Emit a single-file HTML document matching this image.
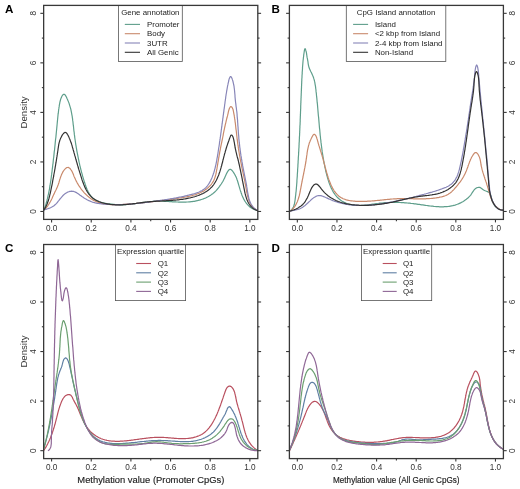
<!DOCTYPE html>
<html><head><meta charset="utf-8"><style>html,body{margin:0;padding:0;background:#fff;width:520px;height:489px;overflow:hidden;font-family:"Liberation Sans", sans-serif;}</style></head>
<body><svg width="520" height="489" viewBox="0 0 520 489" style="position:absolute;left:0;top:0;filter:blur(0.35px)"><rect x="0" y="0" width="520" height="489" fill="#fff"/><style>text{font-family:"Liberation Sans",sans-serif}</style><clipPath id="clA"><rect x="43.65" y="5.4" width="214.15" height="214.0"/></clipPath><g clip-path="url(#clA)" fill="none" stroke-linejoin="round"><path d="M44.0,210.2 L44.3,209.2 L44.7,208.2 L45.0,207.3 L45.3,206.3 L45.6,205.3 L45.9,204.3 L46.2,203.3 L46.4,202.3 L46.7,201.3 L47.0,200.4 L47.2,199.4 L47.5,198.4 L47.7,197.4 L47.9,196.4 L48.1,195.3 L48.4,194.3 L48.6,193.3 L48.8,192.3 L49.0,191.3 L49.2,190.3 L49.4,189.3 L49.6,188.3 L49.7,187.2 L49.9,186.2 L50.1,185.2 L50.2,184.2 L50.4,183.1 L50.6,182.1 L50.7,181.1 L50.9,180.1 L51.0,179.0 L51.2,178.0 L51.3,177.0 L51.4,176.0 L51.6,174.9 L51.7,173.9 L51.8,172.9 L52.0,171.8 L52.1,170.8 L52.2,169.8 L52.3,168.8 L52.5,167.7 L52.6,166.7 L52.7,165.7 L52.8,164.6 L53.0,163.6 L53.1,162.6 L53.2,161.6 L53.3,160.5 L53.4,159.5 L53.5,158.5 L53.7,157.5 L53.8,156.5 L53.9,155.4 L54.0,154.4 L54.1,153.4 L54.2,152.4 L54.3,151.3 L54.5,150.3 L54.6,149.3 L54.7,148.3 L54.8,147.2 L54.9,146.2 L55.0,145.2 L55.1,144.2 L55.2,143.1 L55.3,142.1 L55.4,141.1 L55.5,140.1 L55.6,139.0 L55.8,138.0 L55.9,137.0 L56.0,135.9 L56.1,134.9 L56.2,133.9 L56.3,132.8 L56.4,131.8 L56.5,130.8 L56.6,129.7 L56.7,128.7 L56.8,127.6 L56.9,126.6 L57.0,125.6 L57.1,124.5 L57.2,123.5 L57.3,122.4 L57.4,121.4 L57.5,120.4 L57.6,119.3 L57.7,118.3 L57.8,117.3 L57.9,116.2 L58.0,115.2 L58.1,114.2 L58.3,113.2 L58.4,112.2 L58.5,111.3 L58.6,110.3 L58.7,109.3 L58.9,108.4 L59.0,107.4 L59.2,106.4 L59.3,105.4 L59.5,104.4 L59.7,103.3 L59.9,102.2 L60.2,101.0 L60.5,99.8 L60.9,98.6 L61.4,97.4 L61.9,96.3 L62.5,95.3 L63.1,94.6 L63.7,94.3 L64.3,94.3 L64.9,94.7 L65.4,95.4 L66.0,96.3 L66.5,97.2 L66.9,98.2 L67.4,99.2 L67.8,100.2 L68.2,101.1 L68.6,102.1 L69.0,103.1 L69.3,104.1 L69.6,105.1 L69.9,106.1 L70.2,107.1 L70.5,108.1 L70.8,109.2 L71.0,110.2 L71.2,111.2 L71.4,112.2 L71.6,113.2 L71.8,114.3 L72.0,115.3 L72.2,116.3 L72.3,117.3 L72.5,118.4 L72.6,119.4 L72.7,120.4 L72.9,121.5 L73.0,122.5 L73.1,123.5 L73.2,124.6 L73.4,125.6 L73.5,126.6 L73.6,127.7 L73.7,128.7 L73.8,129.7 L73.9,130.8 L74.1,131.8 L74.2,132.8 L74.3,133.9 L74.4,134.9 L74.6,135.9 L74.7,136.9 L74.8,138.0 L75.0,139.0 L75.1,140.0 L75.3,141.0 L75.4,142.0 L75.6,143.0 L75.7,144.1 L75.9,145.1 L76.1,146.1 L76.2,147.1 L76.4,148.1 L76.6,149.1 L76.7,150.1 L76.9,151.2 L77.1,152.2 L77.3,153.2 L77.5,154.2 L77.7,155.2 L77.9,156.2 L78.1,157.2 L78.3,158.2 L78.5,159.2 L78.7,160.2 L78.9,161.2 L79.1,162.2 L79.4,163.2 L79.6,164.3 L79.8,165.3 L80.1,166.3 L80.3,167.3 L80.6,168.3 L80.8,169.3 L81.1,170.3 L81.3,171.3 L81.6,172.3 L81.9,173.3 L82.2,174.3 L82.4,175.3 L82.7,176.3 L83.0,177.3 L83.3,178.3 L83.6,179.3 L83.9,180.3 L84.2,181.3 L84.5,182.3 L84.9,183.3 L85.2,184.3 L85.5,185.3 L85.9,186.3 L86.2,187.3 L86.6,188.3 L87.0,189.3 L87.4,190.2 L87.9,191.1 L88.3,192.0 L88.8,192.9 L89.3,193.8 L89.8,194.6 L90.4,195.4 L91.0,196.2 L91.6,196.9 L92.3,197.6 L93.0,198.3 L93.8,198.9 L94.6,199.5 L95.4,200.1 L96.3,200.5 L97.2,201.0 L98.2,201.4 L99.2,201.7 L100.2,202.1 L101.3,202.4 L102.4,202.6 L103.5,202.9 L104.5,203.1 L105.6,203.3 L106.7,203.5 L107.8,203.6 L108.9,203.8 L109.9,203.9 L111.0,204.1 L112.0,204.2 L113.0,204.3 L114.1,204.4 L115.1,204.5 L116.1,204.6 L117.1,204.7 L118.1,204.7 L119.1,204.8 L120.1,204.8 L121.1,204.8 L122.1,204.8 L123.1,204.8 L124.1,204.7 L125.2,204.7 L126.2,204.6 L127.2,204.5 L128.2,204.5 L129.2,204.4 L130.2,204.3 L131.2,204.1 L132.3,204.0 L133.3,203.9 L134.3,203.8 L135.3,203.6 L136.4,203.5 L137.4,203.3 L138.4,203.2 L139.4,203.0 L140.5,202.9 L141.5,202.7 L142.5,202.6 L143.6,202.4 L144.6,202.3 L145.6,202.1 L146.7,202.0 L147.7,201.9 L148.7,201.8 L149.8,201.6 L150.8,201.5 L151.8,201.5 L152.9,201.4 L153.9,201.3 L154.9,201.2 L156.0,201.2 L157.0,201.2 L158.0,201.2 L159.1,201.2 L160.1,201.2 L161.1,201.2 L162.2,201.2 L163.2,201.2 L164.2,201.3 L165.3,201.3 L166.3,201.4 L167.3,201.4 L168.3,201.5 L169.4,201.6 L170.4,201.6 L171.4,201.7 L172.5,201.8 L173.5,201.8 L174.5,201.9 L175.6,201.9 L176.6,202.0 L177.6,202.0 L178.7,202.1 L179.7,202.1 L180.7,202.1 L181.8,202.1 L182.8,202.1 L183.8,202.1 L184.9,202.1 L185.9,202.1 L186.9,202.0 L188.0,202.0 L189.0,201.9 L190.0,201.8 L191.1,201.7 L192.1,201.6 L193.1,201.4 L194.2,201.3 L195.2,201.1 L196.2,200.9 L197.3,200.7 L198.3,200.4 L199.3,200.1 L200.3,199.9 L201.3,199.5 L202.3,199.2 L203.3,198.9 L204.2,198.5 L205.2,198.1 L206.1,197.7 L207.0,197.2 L208.0,196.7 L208.9,196.2 L209.7,195.7 L210.6,195.2 L211.5,194.6 L212.3,194.0 L213.1,193.4 L213.9,192.7 L214.7,192.0 L215.4,191.3 L216.1,190.6 L216.8,189.8 L217.5,189.0 L218.2,188.2 L218.8,187.4 L219.4,186.6 L220.0,185.7 L220.6,184.9 L221.2,184.0 L221.7,183.2 L222.3,182.3 L222.8,181.5 L223.3,180.6 L223.7,179.7 L224.2,178.8 L224.7,177.9 L225.1,176.8 L225.6,175.7 L226.1,174.6 L226.6,173.5 L227.2,172.4 L227.8,171.4 L228.4,170.5 L229.0,169.8 L229.7,169.4 L230.4,169.3 L231.2,169.7 L231.9,170.3 L232.6,171.1 L233.2,172.0 L233.8,172.9 L234.4,173.8 L234.9,174.7 L235.4,175.6 L235.8,176.6 L236.3,177.6 L236.7,178.5 L237.0,179.5 L237.4,180.5 L237.7,181.5 L238.0,182.5 L238.3,183.5 L238.6,184.6 L238.9,185.6 L239.2,186.6 L239.5,187.6 L239.8,188.6 L240.1,189.7 L240.4,190.7 L240.8,191.7 L241.1,192.7 L241.5,193.7 L241.8,194.7 L242.2,195.7 L242.6,196.6 L243.0,197.6 L243.5,198.5 L243.9,199.4 L244.4,200.3 L244.9,201.2 L245.5,202.0 L246.1,202.9 L246.7,203.7 L247.3,204.4 L248.0,205.2 L248.7,205.9 L249.4,206.5 L250.2,207.2 L251.0,207.7 L251.8,208.3 L252.7,208.8 L253.7,209.3 L254.7,209.7 L255.7,210.0 L256.8,210.4 L257.9,210.6" stroke="#5e9e8b" stroke-width="1.2" stroke-opacity="1.0"/><path d="M43.6,210.0 L44.4,209.3 L45.2,208.7 L45.9,208.0 L46.5,207.3 L47.2,206.5 L47.8,205.8 L48.3,205.0 L48.8,204.2 L49.3,203.4 L49.8,202.6 L50.3,201.8 L50.7,201.0 L51.2,200.1 L51.6,199.2 L52.0,198.4 L52.4,197.5 L52.8,196.6 L53.2,195.7 L53.6,194.8 L54.1,193.9 L54.5,193.0 L54.9,192.1 L55.3,191.2 L55.8,190.3 L56.2,189.5 L56.6,188.6 L57.0,187.7 L57.4,186.8 L57.7,185.9 L58.1,185.0 L58.4,184.1 L58.7,183.2 L59.0,182.4 L59.2,181.5 L59.5,180.6 L59.7,179.7 L60.0,178.9 L60.3,178.0 L60.6,177.1 L60.9,176.2 L61.3,175.3 L61.7,174.3 L62.1,173.4 L62.6,172.4 L63.2,171.4 L63.8,170.5 L64.5,169.6 L65.2,168.9 L65.9,168.2 L66.6,167.7 L67.4,167.5 L68.2,167.4 L68.9,167.7 L69.7,168.2 L70.4,169.0 L71.1,170.0 L71.7,170.9 L72.2,171.8 L72.6,172.7 L73.0,173.6 L73.4,174.5 L73.7,175.4 L74.0,176.2 L74.4,177.1 L74.8,177.9 L75.2,178.8 L75.6,179.7 L76.0,180.5 L76.4,181.4 L76.9,182.2 L77.3,183.1 L77.8,183.9 L78.3,184.7 L78.8,185.6 L79.4,186.4 L79.9,187.2 L80.5,188.0 L81.0,188.8 L81.6,189.6 L82.2,190.3 L82.9,191.1 L83.5,191.8 L84.1,192.6 L84.8,193.3 L85.5,194.0 L86.2,194.7 L86.9,195.3 L87.6,196.0 L88.3,196.6 L89.1,197.2 L89.8,197.8 L90.6,198.4 L91.4,198.9 L92.2,199.4 L93.0,199.9 L93.8,200.4 L94.6,200.8 L95.5,201.3 L96.3,201.6 L97.2,202.0 L98.1,202.3 L99.0,202.6 L99.9,202.9 L100.8,203.2 L101.7,203.4 L102.6,203.6 L103.5,203.8 L104.5,204.0 L105.4,204.1 L106.4,204.3 L107.3,204.4 L108.3,204.5 L109.3,204.5 L110.2,204.6 L111.2,204.6 L112.2,204.7 L113.2,204.7 L114.2,204.7 L115.1,204.7 L116.1,204.7 L117.1,204.7 L118.1,204.6 L119.1,204.6 L120.1,204.6 L121.1,204.5 L122.1,204.5 L123.1,204.4 L124.1,204.3 L125.0,204.3 L126.0,204.2 L127.0,204.2 L128.0,204.1 L129.0,204.0 L129.9,203.9 L130.9,203.9 L131.9,203.8 L132.8,203.7 L133.8,203.6 L134.8,203.6 L135.8,203.5 L136.7,203.4 L137.7,203.3 L138.6,203.2 L139.6,203.1 L140.6,203.0 L141.5,202.9 L142.5,202.8 L143.4,202.7 L144.4,202.6 L145.3,202.5 L146.3,202.4 L147.2,202.3 L148.2,202.2 L149.2,202.1 L150.1,202.0 L151.1,201.9 L152.0,201.8 L153.0,201.6 L153.9,201.5 L154.9,201.4 L155.8,201.3 L156.8,201.2 L157.7,201.1 L158.7,200.9 L159.6,200.8 L160.6,200.7 L161.5,200.6 L162.5,200.4 L163.4,200.3 L164.4,200.2 L165.3,200.0 L166.3,199.9 L167.2,199.8 L168.2,199.6 L169.1,199.5 L170.1,199.4 L171.0,199.2 L172.0,199.1 L173.0,199.0 L173.9,198.8 L174.9,198.7 L175.8,198.5 L176.8,198.4 L177.8,198.3 L178.7,198.1 L179.7,198.0 L180.7,197.8 L181.6,197.7 L182.6,197.5 L183.6,197.4 L184.5,197.2 L185.5,197.0 L186.5,196.9 L187.4,196.7 L188.4,196.5 L189.3,196.3 L190.3,196.0 L191.2,195.8 L192.1,195.6 L193.1,195.3 L194.0,195.0 L194.9,194.8 L195.8,194.5 L196.7,194.1 L197.6,193.8 L198.5,193.4 L199.4,193.1 L200.3,192.7 L201.1,192.3 L202.0,191.8 L202.8,191.4 L203.7,190.9 L204.5,190.3 L205.3,189.8 L206.1,189.2 L206.9,188.7 L207.6,188.0 L208.4,187.4 L209.1,186.7 L209.8,186.0 L210.4,185.3 L211.1,184.6 L211.7,183.8 L212.2,183.0 L212.8,182.2 L213.3,181.4 L213.7,180.6 L214.1,179.7 L214.5,178.8 L214.8,177.9 L215.1,177.0 L215.4,176.1 L215.6,175.1 L215.9,174.2 L216.1,173.2 L216.3,172.3 L216.4,171.3 L216.6,170.3 L216.8,169.4 L217.0,168.4 L217.1,167.5 L217.3,166.5 L217.5,165.5 L217.6,164.6 L217.8,163.6 L217.9,162.7 L218.1,161.7 L218.3,160.8 L218.4,159.8 L218.6,158.9 L218.7,157.9 L218.9,157.0 L219.1,156.0 L219.2,155.1 L219.4,154.1 L219.6,153.2 L219.7,152.2 L219.9,151.3 L220.1,150.3 L220.3,149.4 L220.5,148.4 L220.6,147.5 L220.8,146.6 L221.0,145.6 L221.2,144.7 L221.4,143.7 L221.6,142.8 L221.8,141.8 L222.0,140.9 L222.2,139.9 L222.4,139.0 L222.6,138.0 L222.8,137.0 L223.0,136.0 L223.2,135.1 L223.3,134.1 L223.5,133.1 L223.7,132.1 L223.9,131.2 L224.1,130.2 L224.3,129.3 L224.5,128.3 L224.7,127.4 L224.9,126.5 L225.1,125.6 L225.3,124.7 L225.5,123.8 L225.7,123.0 L225.9,122.1 L226.1,121.3 L226.3,120.4 L226.5,119.6 L226.7,118.7 L227.0,117.8 L227.2,116.9 L227.5,115.9 L227.7,114.8 L228.0,113.8 L228.2,112.6 L228.5,111.4 L228.8,110.2 L229.2,109.0 L229.6,108.0 L230.1,107.2 L230.6,106.7 L231.2,106.7 L231.8,107.1 L232.3,107.8 L232.7,108.7 L233.1,109.6 L233.3,110.7 L233.5,111.7 L233.7,112.8 L233.9,113.8 L234.1,114.9 L234.3,115.9 L234.4,116.9 L234.6,117.9 L234.7,118.9 L234.9,119.9 L235.0,120.8 L235.1,121.8 L235.3,122.8 L235.4,123.7 L235.5,124.7 L235.6,125.6 L235.7,126.5 L235.8,127.5 L235.9,128.4 L236.0,129.3 L236.2,130.3 L236.3,131.2 L236.4,132.1 L236.5,133.1 L236.6,134.0 L236.7,134.9 L236.8,135.9 L236.9,136.8 L237.0,137.8 L237.1,138.7 L237.2,139.7 L237.4,140.6 L237.5,141.6 L237.6,142.6 L237.7,143.5 L237.9,144.5 L238.0,145.5 L238.2,146.4 L238.3,147.4 L238.4,148.4 L238.6,149.4 L238.7,150.3 L238.9,151.3 L239.1,152.3 L239.2,153.3 L239.4,154.2 L239.5,155.2 L239.7,156.2 L239.9,157.1 L240.1,158.1 L240.2,159.0 L240.4,160.0 L240.6,160.9 L240.8,161.9 L241.0,162.8 L241.2,163.8 L241.3,164.7 L241.5,165.7 L241.7,166.6 L241.9,167.5 L242.1,168.5 L242.3,169.4 L242.5,170.4 L242.7,171.3 L242.9,172.2 L243.1,173.2 L243.3,174.1 L243.5,175.0 L243.7,176.0 L243.9,176.9 L244.1,177.9 L244.3,178.8 L244.5,179.7 L244.7,180.7 L244.9,181.6 L245.0,182.6 L245.2,183.5 L245.4,184.5 L245.6,185.5 L245.8,186.4 L245.9,187.4 L246.1,188.4 L246.3,189.3 L246.5,190.3 L246.6,191.3 L246.8,192.3 L247.0,193.2 L247.2,194.2 L247.4,195.2 L247.6,196.1 L247.9,197.0 L248.1,198.0 L248.4,198.9 L248.7,199.8 L249.0,200.7 L249.4,201.6 L249.8,202.4 L250.2,203.3 L250.6,204.1 L251.1,204.9 L251.7,205.6 L252.3,206.4 L252.9,207.1 L253.6,207.8 L254.3,208.4 L255.1,209.0 L255.9,209.6 L256.8,210.1 L257.8,210.6" stroke="#c98a6c" stroke-width="1.2" stroke-opacity="1.0"/><path d="M43.7,210.0 L44.7,209.7 L45.6,209.4 L46.6,209.1 L47.6,208.8 L48.6,208.4 L49.5,208.1 L50.5,207.7 L51.4,207.2 L52.3,206.8 L53.2,206.2 L54.0,205.7 L54.8,205.0 L55.6,204.3 L56.3,203.6 L57.0,202.8 L57.7,202.0 L58.3,201.2 L59.0,200.4 L59.6,199.5 L60.3,198.7 L61.0,197.9 L61.6,197.1 L62.3,196.3 L63.0,195.5 L63.8,194.8 L64.6,194.1 L65.4,193.5 L66.2,192.9 L67.1,192.4 L68.0,192.0 L68.9,191.7 L69.8,191.4 L70.7,191.3 L71.6,191.2 L72.6,191.3 L73.5,191.4 L74.5,191.7 L75.4,192.1 L76.4,192.6 L77.3,193.2 L78.2,193.8 L79.2,194.5 L80.1,195.2 L81.0,195.8 L81.9,196.5 L82.8,197.1 L83.7,197.7 L84.5,198.2 L85.4,198.8 L86.3,199.3 L87.1,199.8 L88.0,200.2 L88.9,200.6 L89.8,201.0 L90.7,201.4 L91.6,201.8 L92.5,202.1 L93.5,202.4 L94.5,202.6 L95.4,202.9 L96.4,203.1 L97.4,203.3 L98.4,203.5 L99.4,203.6 L100.4,203.7 L101.4,203.9 L102.5,204.0 L103.5,204.1 L104.5,204.2 L105.6,204.2 L106.6,204.3 L107.6,204.4 L108.6,204.4 L109.7,204.5 L110.7,204.5 L111.7,204.5 L112.8,204.6 L113.8,204.6 L114.8,204.6 L115.8,204.6 L116.9,204.6 L117.9,204.6 L118.9,204.6 L120.0,204.6 L121.0,204.5 L122.0,204.5 L123.0,204.5 L124.1,204.4 L125.1,204.4 L126.1,204.3 L127.1,204.3 L128.1,204.2 L129.2,204.1 L130.2,204.1 L131.2,204.0 L132.2,203.9 L133.2,203.8 L134.3,203.7 L135.3,203.6 L136.3,203.5 L137.3,203.4 L138.3,203.3 L139.4,203.2 L140.4,203.1 L141.4,203.0 L142.4,202.9 L143.4,202.8 L144.4,202.6 L145.4,202.5 L146.4,202.4 L147.5,202.3 L148.5,202.1 L149.5,202.0 L150.5,201.9 L151.5,201.7 L152.5,201.6 L153.5,201.4 L154.5,201.3 L155.5,201.1 L156.5,201.0 L157.5,200.9 L158.5,200.7 L159.5,200.6 L160.5,200.4 L161.5,200.3 L162.5,200.1 L163.5,200.0 L164.5,199.8 L165.5,199.6 L166.5,199.5 L167.5,199.3 L168.5,199.2 L169.5,199.0 L170.5,198.8 L171.5,198.7 L172.5,198.5 L173.5,198.3 L174.5,198.1 L175.5,198.0 L176.5,197.8 L177.5,197.6 L178.5,197.4 L179.5,197.2 L180.5,197.0 L181.5,196.8 L182.6,196.6 L183.6,196.4 L184.6,196.1 L185.6,195.9 L186.6,195.7 L187.6,195.4 L188.6,195.2 L189.6,194.9 L190.7,194.7 L191.7,194.4 L192.7,194.1 L193.7,193.9 L194.7,193.6 L195.7,193.2 L196.7,192.9 L197.6,192.5 L198.6,192.2 L199.5,191.8 L200.4,191.3 L201.3,190.9 L202.2,190.4 L203.0,189.8 L203.8,189.3 L204.6,188.7 L205.4,188.0 L206.1,187.3 L206.7,186.6 L207.4,185.8 L208.0,185.0 L208.6,184.2 L209.1,183.4 L209.6,182.5 L210.1,181.6 L210.6,180.7 L211.0,179.8 L211.5,178.8 L211.9,177.9 L212.3,176.9 L212.6,175.9 L213.0,175.0 L213.3,174.0 L213.7,173.0 L214.0,172.0 L214.3,171.1 L214.5,170.1 L214.8,169.1 L215.1,168.1 L215.3,167.1 L215.5,166.1 L215.8,165.1 L216.0,164.1 L216.2,163.1 L216.4,162.1 L216.6,161.1 L216.8,160.1 L216.9,159.1 L217.1,158.1 L217.3,157.1 L217.5,156.1 L217.6,155.1 L217.8,154.1 L218.0,153.1 L218.1,152.0 L218.3,151.0 L218.4,150.0 L218.6,149.0 L218.7,148.0 L218.9,147.0 L219.1,146.0 L219.2,145.0 L219.4,144.0 L219.5,142.9 L219.6,141.9 L219.8,140.9 L219.9,139.9 L220.1,138.9 L220.2,137.9 L220.4,136.9 L220.5,135.9 L220.7,134.8 L220.8,133.8 L220.9,132.8 L221.1,131.8 L221.2,130.8 L221.3,129.8 L221.5,128.8 L221.6,127.7 L221.8,126.7 L221.9,125.7 L222.0,124.7 L222.2,123.7 L222.3,122.7 L222.4,121.7 L222.6,120.7 L222.7,119.7 L222.8,118.6 L223.0,117.6 L223.1,116.6 L223.2,115.6 L223.4,114.6 L223.5,113.6 L223.6,112.6 L223.8,111.6 L223.9,110.6 L224.0,109.6 L224.2,108.6 L224.3,107.6 L224.5,106.5 L224.6,105.5 L224.7,104.5 L224.9,103.5 L225.0,102.5 L225.1,101.5 L225.3,100.5 L225.4,99.5 L225.6,98.5 L225.7,97.5 L225.8,96.5 L226.0,95.5 L226.1,94.5 L226.3,93.5 L226.5,92.5 L226.6,91.4 L226.8,90.3 L227.0,89.3 L227.2,88.2 L227.4,87.0 L227.6,85.9 L227.9,84.7 L228.1,83.5 L228.4,82.3 L228.7,81.0 L228.9,79.9 L229.2,78.8 L229.6,77.9 L229.9,77.2 L230.2,76.7 L230.6,76.5 L231.0,76.7 L231.3,77.1 L231.7,77.8 L232.1,78.7 L232.4,79.7 L232.8,80.8 L233.1,82.0 L233.4,83.3 L233.6,84.5 L233.9,85.7 L234.1,86.9 L234.2,88.0 L234.4,89.1 L234.5,90.2 L234.6,91.3 L234.7,92.4 L234.8,93.5 L234.9,94.5 L235.0,95.5 L235.0,96.6 L235.1,97.6 L235.2,98.6 L235.3,99.6 L235.4,100.6 L235.5,101.6 L235.6,102.6 L235.8,103.6 L235.9,104.6 L236.0,105.6 L236.1,106.6 L236.3,107.6 L236.4,108.5 L236.5,109.5 L236.6,110.5 L236.8,111.5 L236.9,112.5 L237.0,113.5 L237.1,114.6 L237.1,115.6 L237.2,116.6 L237.3,117.6 L237.4,118.6 L237.5,119.6 L237.6,120.6 L237.6,121.7 L237.7,122.7 L237.8,123.7 L237.8,124.7 L237.9,125.8 L238.0,126.8 L238.1,127.8 L238.1,128.8 L238.2,129.9 L238.3,130.9 L238.3,131.9 L238.4,132.9 L238.5,134.0 L238.6,135.0 L238.7,136.0 L238.8,137.0 L238.8,138.1 L238.9,139.1 L239.0,140.1 L239.1,141.1 L239.2,142.2 L239.4,143.2 L239.5,144.2 L239.6,145.2 L239.7,146.2 L239.8,147.3 L240.0,148.3 L240.1,149.3 L240.2,150.3 L240.4,151.3 L240.5,152.3 L240.6,153.3 L240.8,154.3 L240.9,155.4 L241.1,156.4 L241.3,157.4 L241.4,158.4 L241.6,159.4 L241.8,160.4 L241.9,161.4 L242.1,162.4 L242.3,163.4 L242.5,164.4 L242.6,165.4 L242.8,166.4 L243.0,167.4 L243.2,168.4 L243.4,169.4 L243.6,170.4 L243.8,171.4 L244.0,172.4 L244.2,173.4 L244.4,174.4 L244.6,175.4 L244.8,176.4 L245.0,177.4 L245.2,178.4 L245.4,179.4 L245.6,180.4 L245.8,181.4 L246.0,182.4 L246.2,183.4 L246.4,184.4 L246.6,185.4 L246.7,186.4 L246.9,187.5 L247.1,188.5 L247.2,189.5 L247.4,190.5 L247.5,191.6 L247.7,192.6 L247.9,193.6 L248.1,194.7 L248.3,195.7 L248.5,196.7 L248.7,197.7 L248.9,198.6 L249.2,199.6 L249.5,200.6 L249.9,201.5 L250.3,202.4 L250.7,203.3 L251.2,204.2 L251.7,205.0 L252.2,205.8 L252.8,206.6 L253.5,207.4 L254.2,208.1 L255.0,208.8 L255.9,209.4 L256.8,210.1 L257.8,210.6" stroke="#8886b8" stroke-width="1.2" stroke-opacity="1.0"/><path d="M43.8,210.1 L44.4,209.3 L44.9,208.4 L45.4,207.5 L45.8,206.7 L46.3,205.8 L46.7,204.9 L47.1,204.0 L47.4,203.0 L47.8,202.1 L48.1,201.2 L48.4,200.3 L48.7,199.3 L49.0,198.4 L49.2,197.4 L49.5,196.5 L49.7,195.5 L49.9,194.5 L50.2,193.6 L50.4,192.6 L50.6,191.6 L50.8,190.6 L51.0,189.7 L51.2,188.7 L51.4,187.7 L51.6,186.7 L51.8,185.8 L52.0,184.8 L52.2,183.8 L52.4,182.8 L52.6,181.8 L52.7,180.9 L52.9,179.9 L53.1,178.9 L53.3,177.9 L53.5,176.9 L53.7,176.0 L53.8,175.0 L54.0,174.0 L54.2,173.0 L54.4,172.0 L54.6,171.0 L54.7,170.1 L54.9,169.1 L55.1,168.1 L55.2,167.1 L55.4,166.1 L55.6,165.2 L55.7,164.2 L55.9,163.2 L56.1,162.2 L56.2,161.2 L56.4,160.3 L56.5,159.3 L56.7,158.3 L56.8,157.3 L57.0,156.4 L57.1,155.4 L57.3,154.4 L57.4,153.4 L57.6,152.5 L57.7,151.5 L57.9,150.5 L58.0,149.6 L58.1,148.6 L58.3,147.6 L58.4,146.7 L58.6,145.7 L58.7,144.7 L58.9,143.8 L59.1,142.8 L59.4,141.8 L59.7,140.8 L60.0,139.9 L60.4,138.9 L60.8,137.9 L61.3,136.9 L61.8,135.9 L62.4,134.9 L63.1,134.0 L63.7,133.2 L64.4,132.7 L65.1,132.4 L65.8,132.5 L66.4,132.9 L67.0,133.6 L67.5,134.5 L68.1,135.4 L68.6,136.4 L69.0,137.4 L69.4,138.4 L69.9,139.4 L70.2,140.3 L70.6,141.3 L70.9,142.3 L71.3,143.2 L71.6,144.2 L71.9,145.1 L72.2,146.1 L72.4,147.0 L72.7,148.0 L73.0,148.9 L73.2,149.9 L73.5,150.8 L73.8,151.7 L74.0,152.7 L74.3,153.6 L74.6,154.6 L74.8,155.5 L75.1,156.4 L75.4,157.4 L75.6,158.3 L75.9,159.3 L76.2,160.2 L76.4,161.1 L76.7,162.1 L77.0,163.0 L77.2,164.0 L77.5,164.9 L77.8,165.9 L78.1,166.8 L78.3,167.8 L78.6,168.7 L78.9,169.7 L79.2,170.6 L79.5,171.6 L79.8,172.6 L80.1,173.5 L80.4,174.5 L80.7,175.5 L81.0,176.4 L81.3,177.4 L81.6,178.4 L81.9,179.4 L82.2,180.3 L82.6,181.3 L82.9,182.3 L83.3,183.2 L83.6,184.2 L84.0,185.1 L84.4,186.1 L84.8,187.0 L85.2,187.9 L85.7,188.8 L86.1,189.7 L86.6,190.5 L87.1,191.4 L87.6,192.2 L88.1,193.0 L88.7,193.8 L89.3,194.5 L89.9,195.2 L90.5,195.9 L91.2,196.6 L91.9,197.3 L92.6,197.9 L93.4,198.4 L94.1,199.0 L94.9,199.5 L95.8,200.0 L96.6,200.5 L97.5,200.9 L98.4,201.3 L99.3,201.7 L100.2,202.0 L101.1,202.4 L102.1,202.7 L103.0,203.0 L104.0,203.2 L105.0,203.5 L106.0,203.7 L107.0,203.9 L108.0,204.1 L109.1,204.2 L110.1,204.4 L111.1,204.5 L112.1,204.6 L113.2,204.7 L114.2,204.7 L115.2,204.8 L116.2,204.8 L117.3,204.8 L118.3,204.8 L119.3,204.8 L120.3,204.8 L121.3,204.8 L122.3,204.8 L123.3,204.7 L124.3,204.6 L125.3,204.6 L126.3,204.5 L127.3,204.4 L128.3,204.3 L129.3,204.2 L130.3,204.1 L131.3,204.0 L132.3,203.9 L133.2,203.7 L134.2,203.6 L135.2,203.5 L136.2,203.4 L137.2,203.2 L138.1,203.1 L139.1,203.0 L140.1,202.8 L141.1,202.7 L142.0,202.6 L143.0,202.4 L144.0,202.3 L145.0,202.2 L146.0,202.1 L146.9,202.0 L147.9,201.9 L148.9,201.8 L149.9,201.7 L150.8,201.6 L151.8,201.5 L152.8,201.5 L153.8,201.4 L154.8,201.3 L155.7,201.3 L156.7,201.2 L157.7,201.2 L158.7,201.1 L159.7,201.1 L160.7,201.0 L161.6,201.0 L162.6,200.9 L163.6,200.9 L164.6,200.8 L165.6,200.8 L166.6,200.7 L167.6,200.6 L168.5,200.6 L169.5,200.5 L170.5,200.5 L171.5,200.4 L172.5,200.3 L173.5,200.2 L174.5,200.2 L175.5,200.1 L176.5,200.0 L177.4,199.9 L178.4,199.8 L179.4,199.7 L180.4,199.5 L181.4,199.4 L182.4,199.3 L183.4,199.1 L184.4,199.0 L185.4,198.8 L186.4,198.6 L187.4,198.4 L188.4,198.2 L189.4,198.0 L190.4,197.8 L191.4,197.5 L192.4,197.3 L193.4,197.0 L194.3,196.8 L195.3,196.5 L196.3,196.1 L197.3,195.8 L198.2,195.5 L199.2,195.1 L200.1,194.7 L201.1,194.3 L202.0,193.9 L202.9,193.5 L203.8,193.0 L204.6,192.6 L205.5,192.1 L206.3,191.5 L207.1,191.0 L207.9,190.4 L208.7,189.8 L209.4,189.2 L210.1,188.6 L210.8,187.9 L211.5,187.3 L212.1,186.6 L212.7,185.8 L213.3,185.1 L213.9,184.3 L214.4,183.5 L214.9,182.7 L215.4,181.9 L215.9,181.0 L216.4,180.2 L216.8,179.3 L217.2,178.4 L217.6,177.5 L218.0,176.6 L218.4,175.7 L218.8,174.7 L219.1,173.8 L219.4,172.8 L219.8,171.9 L220.1,170.9 L220.4,169.9 L220.7,168.9 L221.0,167.9 L221.2,166.9 L221.5,166.0 L221.8,165.0 L222.0,164.0 L222.3,163.0 L222.6,162.0 L222.8,161.0 L223.0,160.0 L223.3,159.0 L223.5,158.1 L223.8,157.1 L224.0,156.1 L224.3,155.2 L224.5,154.2 L224.8,153.3 L225.1,152.4 L225.3,151.4 L225.6,150.5 L225.9,149.6 L226.1,148.7 L226.4,147.8 L226.7,146.8 L227.0,145.9 L227.3,145.0 L227.6,144.0 L228.0,143.1 L228.3,142.1 L228.6,141.2 L229.0,140.2 L229.3,139.2 L229.7,138.1 L230.1,137.1 L230.5,136.1 L230.9,135.3 L231.4,135.0 L231.9,135.2 L232.4,135.8 L232.9,136.8 L233.3,137.9 L233.6,139.1 L233.9,140.4 L234.1,141.6 L234.4,142.8 L234.5,143.8 L234.7,144.8 L234.8,145.7 L235.0,146.6 L235.1,147.5 L235.3,148.4 L235.5,149.3 L235.7,150.2 L235.9,151.2 L236.1,152.1 L236.4,153.1 L236.6,154.1 L236.8,155.1 L237.1,156.1 L237.3,157.0 L237.6,158.0 L237.9,159.0 L238.1,160.0 L238.4,161.0 L238.6,162.0 L238.8,163.0 L239.1,164.0 L239.3,164.9 L239.5,165.9 L239.7,166.9 L239.9,167.8 L240.1,168.8 L240.3,169.7 L240.5,170.7 L240.7,171.6 L240.9,172.6 L241.1,173.6 L241.3,174.5 L241.5,175.5 L241.7,176.4 L241.9,177.4 L242.1,178.3 L242.3,179.3 L242.4,180.3 L242.6,181.2 L242.8,182.2 L243.0,183.2 L243.2,184.2 L243.4,185.1 L243.6,186.1 L243.8,187.1 L244.0,188.1 L244.2,189.1 L244.4,190.1 L244.6,191.1 L244.8,192.1 L245.0,193.2 L245.3,194.2 L245.5,195.2 L245.8,196.1 L246.1,197.1 L246.4,198.1 L246.7,199.0 L247.1,200.0 L247.5,200.9 L247.9,201.8 L248.3,202.6 L248.8,203.5 L249.3,204.3 L249.9,205.1 L250.5,205.8 L251.1,206.5 L251.8,207.2 L252.5,207.9 L253.2,208.5 L254.0,209.0 L254.9,209.5 L255.8,210.0 L256.8,210.4 L257.8,210.8" stroke="#333333" stroke-width="1.2" stroke-opacity="1.0"/></g><rect x="118.4" y="5.4" width="63.900000000000006" height="56.1" fill="#fff" stroke="#555" stroke-width="0.8"/><text x="150.35" y="14.70" font-size="7.9" fill="#222" text-anchor="middle">Gene annotation</text><line x1="124.8" x2="140.0" y1="24.40" y2="24.40" stroke="#5e9e8b" stroke-width="1.1"/><text x="147.0" y="27.10" font-size="7.9" fill="#222">Promoter</text><line x1="124.8" x2="140.0" y1="33.70" y2="33.70" stroke="#c98a6c" stroke-width="1.1"/><text x="147.0" y="36.40" font-size="7.9" fill="#222">Body</text><line x1="124.8" x2="140.0" y1="43.00" y2="43.00" stroke="#8886b8" stroke-width="1.1"/><text x="147.0" y="45.70" font-size="7.9" fill="#222">3UTR</text><line x1="124.8" x2="140.0" y1="52.30" y2="52.30" stroke="#333333" stroke-width="1.1"/><text x="147.0" y="55.00" font-size="7.9" fill="#222">All Genic</text><rect x="43.65" y="5.4" width="214.15" height="214.00" fill="none" stroke="#383838" stroke-width="1.3"/><line x1="40.35" x2="43.65" y1="211.47" y2="211.47" stroke="#383838" stroke-width="1.1"/><line x1="257.8" x2="261.10" y1="211.47" y2="211.47" stroke="#383838" stroke-width="1.1"/><text transform="translate(35.75,211.47) rotate(-90)" x="0" y="0" font-size="8.2" fill="#333" text-anchor="middle">0</text><line x1="41.85" x2="43.65" y1="186.71" y2="186.71" stroke="#383838" stroke-width="1.1"/><line x1="257.8" x2="259.60" y1="186.71" y2="186.71" stroke="#383838" stroke-width="1.1"/><line x1="40.35" x2="43.65" y1="161.94" y2="161.94" stroke="#383838" stroke-width="1.1"/><line x1="257.8" x2="261.10" y1="161.94" y2="161.94" stroke="#383838" stroke-width="1.1"/><text transform="translate(35.75,161.94) rotate(-90)" x="0" y="0" font-size="8.2" fill="#333" text-anchor="middle">2</text><line x1="41.85" x2="43.65" y1="137.17" y2="137.17" stroke="#383838" stroke-width="1.1"/><line x1="257.8" x2="259.60" y1="137.17" y2="137.17" stroke="#383838" stroke-width="1.1"/><line x1="40.35" x2="43.65" y1="112.40" y2="112.40" stroke="#383838" stroke-width="1.1"/><line x1="257.8" x2="261.10" y1="112.40" y2="112.40" stroke="#383838" stroke-width="1.1"/><text transform="translate(35.75,112.40) rotate(-90)" x="0" y="0" font-size="8.2" fill="#333" text-anchor="middle">4</text><line x1="41.85" x2="43.65" y1="87.63" y2="87.63" stroke="#383838" stroke-width="1.1"/><line x1="257.8" x2="259.60" y1="87.63" y2="87.63" stroke="#383838" stroke-width="1.1"/><line x1="40.35" x2="43.65" y1="62.86" y2="62.86" stroke="#383838" stroke-width="1.1"/><line x1="257.8" x2="261.10" y1="62.86" y2="62.86" stroke="#383838" stroke-width="1.1"/><text transform="translate(35.75,62.86) rotate(-90)" x="0" y="0" font-size="8.2" fill="#333" text-anchor="middle">6</text><line x1="41.85" x2="43.65" y1="38.09" y2="38.09" stroke="#383838" stroke-width="1.1"/><line x1="257.8" x2="259.60" y1="38.09" y2="38.09" stroke="#383838" stroke-width="1.1"/><line x1="40.35" x2="43.65" y1="13.33" y2="13.33" stroke="#383838" stroke-width="1.1"/><line x1="257.8" x2="261.10" y1="13.33" y2="13.33" stroke="#383838" stroke-width="1.1"/><text transform="translate(35.75,13.33) rotate(-90)" x="0" y="0" font-size="8.2" fill="#333" text-anchor="middle">8</text><line x1="51.58" x2="51.58" y1="219.4" y2="222.40" stroke="#383838" stroke-width="1.1"/><text x="51.58" y="230.90" font-size="8.2" fill="#333" text-anchor="middle">0.0</text><line x1="91.24" x2="91.24" y1="219.4" y2="222.40" stroke="#383838" stroke-width="1.1"/><text x="91.24" y="230.90" font-size="8.2" fill="#333" text-anchor="middle">0.2</text><line x1="130.90" x2="130.90" y1="219.4" y2="222.40" stroke="#383838" stroke-width="1.1"/><text x="130.90" y="230.90" font-size="8.2" fill="#333" text-anchor="middle">0.4</text><line x1="170.55" x2="170.55" y1="219.4" y2="222.40" stroke="#383838" stroke-width="1.1"/><text x="170.55" y="230.90" font-size="8.2" fill="#333" text-anchor="middle">0.6</text><line x1="210.21" x2="210.21" y1="219.4" y2="222.40" stroke="#383838" stroke-width="1.1"/><text x="210.21" y="230.90" font-size="8.2" fill="#333" text-anchor="middle">0.8</text><line x1="249.87" x2="249.87" y1="219.4" y2="222.40" stroke="#383838" stroke-width="1.1"/><text x="249.87" y="230.90" font-size="8.2" fill="#333" text-anchor="middle">1.0</text><line x1="150.72" x2="150.72" y1="219.4" y2="221.20" stroke="#383838" stroke-width="1.1"/><text x="5.0" y="13.30" font-size="11.6" font-weight="bold" fill="#000">A</text><text transform="translate(27.3,112.40) rotate(-90) scale(1.035,0.95)" font-size="9.3" fill="#333" text-anchor="middle">Density</text><clipPath id="clB"><rect x="289.4" y="5.4" width="214.0" height="214.0"/></clipPath><g clip-path="url(#clB)" fill="none" stroke-linejoin="round"><path d="M289.5,211.3 L290.5,210.6 L291.4,209.9 L292.2,209.0 L292.8,208.0 L293.4,207.0 L293.8,205.9 L294.2,204.8 L294.5,203.6 L294.7,202.4 L294.9,201.2 L295.1,200.0 L295.2,198.8 L295.4,197.6 L295.5,196.3 L295.7,195.1 L295.8,193.9 L295.9,192.7 L296.1,191.5 L296.2,190.3 L296.3,189.1 L296.4,187.9 L296.5,186.7 L296.6,185.5 L296.7,184.3 L296.8,183.1 L296.9,181.9 L296.9,180.7 L297.0,179.5 L297.1,178.3 L297.2,177.1 L297.3,175.9 L297.3,174.7 L297.4,173.5 L297.5,172.3 L297.6,171.1 L297.6,169.9 L297.7,168.7 L297.8,167.5 L297.9,166.3 L297.9,165.1 L298.0,163.9 L298.1,162.7 L298.1,161.5 L298.2,160.3 L298.3,159.1 L298.3,157.9 L298.4,156.7 L298.5,155.5 L298.6,154.3 L298.6,153.1 L298.7,151.9 L298.8,150.7 L298.8,149.4 L298.9,148.2 L299.0,147.0 L299.0,145.8 L299.1,144.6 L299.1,143.4 L299.2,142.2 L299.3,141.0 L299.3,139.8 L299.4,138.6 L299.4,137.4 L299.5,136.2 L299.6,135.0 L299.6,133.8 L299.7,132.6 L299.7,131.4 L299.8,130.2 L299.8,128.9 L299.9,127.7 L299.9,126.5 L300.0,125.3 L300.1,124.1 L300.1,122.9 L300.2,121.7 L300.2,120.5 L300.2,119.3 L300.3,118.1 L300.3,116.9 L300.4,115.7 L300.4,114.5 L300.5,113.2 L300.5,112.0 L300.6,110.8 L300.6,109.6 L300.7,108.4 L300.7,107.2 L300.7,106.0 L300.8,104.8 L300.8,103.6 L300.9,102.4 L300.9,101.2 L301.0,100.0 L301.0,98.8 L301.1,97.6 L301.1,96.4 L301.2,95.2 L301.2,94.0 L301.3,92.7 L301.3,91.5 L301.4,90.3 L301.4,89.1 L301.5,87.9 L301.5,86.7 L301.6,85.5 L301.6,84.3 L301.7,83.1 L301.7,81.9 L301.8,80.7 L301.8,79.5 L301.9,78.3 L302.0,77.2 L302.0,76.0 L302.1,74.8 L302.2,73.6 L302.2,72.4 L302.3,71.2 L302.4,70.0 L302.5,68.8 L302.5,67.6 L302.6,66.4 L302.7,65.2 L302.8,64.0 L302.9,62.7 L303.0,61.5 L303.1,60.3 L303.3,59.0 L303.4,57.7 L303.6,56.5 L303.7,55.2 L303.9,53.8 L304.1,52.5 L304.3,51.2 L304.5,49.9 L304.8,49.0 L305.1,48.7 L305.5,49.3 L305.8,50.4 L306.2,51.7 L306.5,53.1 L306.7,54.6 L306.9,56.0 L307.1,57.4 L307.4,58.6 L307.6,59.8 L307.8,60.9 L308.0,62.0 L308.1,63.1 L308.3,64.3 L308.5,65.5 L308.8,66.6 L309.1,67.8 L309.6,68.9 L310.1,70.0 L310.6,71.2 L311.2,72.2 L311.7,73.3 L312.2,74.4 L312.7,75.6 L313.2,76.7 L313.6,77.8 L313.9,78.9 L314.3,80.1 L314.5,81.2 L314.8,82.4 L315.0,83.6 L315.2,84.8 L315.4,85.9 L315.6,87.1 L315.7,88.3 L315.9,89.5 L316.0,90.7 L316.1,91.9 L316.3,93.1 L316.4,94.3 L316.5,95.5 L316.6,96.7 L316.8,97.9 L316.9,99.1 L317.0,100.3 L317.1,101.5 L317.2,102.7 L317.4,103.9 L317.5,105.1 L317.6,106.4 L317.7,107.6 L317.8,108.8 L317.9,110.0 L318.0,111.2 L318.1,112.4 L318.2,113.6 L318.3,114.8 L318.4,116.0 L318.6,117.2 L318.7,118.4 L318.8,119.6 L318.9,120.9 L319.0,122.1 L319.1,123.3 L319.2,124.5 L319.3,125.7 L319.4,126.9 L319.5,128.1 L319.7,129.3 L319.8,130.5 L319.9,131.7 L320.0,132.9 L320.1,134.1 L320.2,135.3 L320.4,136.5 L320.5,137.7 L320.6,138.9 L320.8,140.0 L320.9,141.2 L321.0,142.4 L321.2,143.6 L321.3,144.8 L321.5,146.0 L321.6,147.1 L321.8,148.3 L321.9,149.5 L322.1,150.7 L322.2,151.9 L322.4,153.0 L322.6,154.2 L322.8,155.4 L323.0,156.6 L323.2,157.8 L323.4,158.9 L323.6,160.1 L323.8,161.3 L324.0,162.5 L324.2,163.7 L324.5,164.9 L324.7,166.0 L324.9,167.2 L325.2,168.4 L325.5,169.6 L325.7,170.8 L326.0,172.0 L326.3,173.2 L326.6,174.4 L326.9,175.6 L327.3,176.8 L327.6,178.0 L328.0,179.2 L328.3,180.4 L328.7,181.6 L329.1,182.8 L329.5,183.9 L330.0,185.1 L330.4,186.2 L330.9,187.3 L331.4,188.4 L332.0,189.5 L332.5,190.5 L333.1,191.6 L333.7,192.6 L334.4,193.6 L335.0,194.5 L335.7,195.4 L336.5,196.3 L337.2,197.2 L338.1,198.0 L338.9,198.8 L339.8,199.5 L340.7,200.2 L341.7,200.9 L342.7,201.5 L343.7,202.1 L344.8,202.6 L345.9,203.1 L347.0,203.5 L348.2,203.9 L349.4,204.2 L350.6,204.5 L351.8,204.8 L353.1,205.0 L354.3,205.2 L355.5,205.3 L356.8,205.4 L358.0,205.5 L359.2,205.5 L360.5,205.5 L361.7,205.4 L362.9,205.4 L364.1,205.3 L365.3,205.2 L366.5,205.1 L367.8,204.9 L369.0,204.8 L370.2,204.6 L371.4,204.4 L372.6,204.2 L373.8,204.1 L375.0,203.9 L376.2,203.7 L377.4,203.5 L378.6,203.4 L379.8,203.2 L381.0,203.1 L382.2,203.0 L383.4,202.8 L384.6,202.7 L385.8,202.7 L387.0,202.6 L388.2,202.5 L389.4,202.5 L390.6,202.4 L391.8,202.4 L393.0,202.4 L394.2,202.4 L395.3,202.4 L396.5,202.4 L397.7,202.4 L398.9,202.5 L400.1,202.5 L401.3,202.6 L402.5,202.7 L403.7,202.7 L404.9,202.8 L406.1,202.9 L407.3,203.0 L408.5,203.1 L409.7,203.2 L410.9,203.4 L412.1,203.5 L413.3,203.6 L414.5,203.8 L415.7,203.9 L416.9,204.1 L418.1,204.3 L419.3,204.4 L420.5,204.6 L421.7,204.8 L422.9,204.9 L424.1,205.1 L425.3,205.3 L426.5,205.5 L427.8,205.6 L429.0,205.8 L430.2,206.0 L431.4,206.1 L432.6,206.2 L433.8,206.4 L435.0,206.5 L436.2,206.6 L437.4,206.7 L438.6,206.7 L439.8,206.8 L441.0,206.8 L442.2,206.8 L443.4,206.8 L444.5,206.7 L445.7,206.7 L446.9,206.6 L448.1,206.5 L449.2,206.3 L450.4,206.1 L451.6,205.9 L452.7,205.7 L453.9,205.4 L455.0,205.1 L456.1,204.7 L457.3,204.3 L458.4,203.9 L459.5,203.4 L460.6,202.9 L461.7,202.3 L462.8,201.7 L463.9,201.0 L464.9,200.3 L466.0,199.6 L466.9,198.8 L467.9,198.0 L468.8,197.1 L469.7,196.2 L470.5,195.3 L471.2,194.3 L471.9,193.2 L472.6,192.2 L473.3,191.2 L473.9,190.2 L474.7,189.3 L475.5,188.5 L476.5,187.9 L477.6,187.5 L478.7,187.3 L479.8,187.4 L480.9,188.0 L481.9,188.7 L482.9,189.5 L484.1,190.3 L485.2,190.8 L486.4,191.2 L487.5,191.6 L488.5,192.1 L489.4,192.7 L490.0,193.6 L490.5,194.6 L490.9,195.7 L491.2,197.0 L491.5,198.2 L491.8,199.5 L492.2,200.8 L492.6,202.0 L493.1,203.1 L493.7,204.1 L494.3,205.1 L495.0,206.0 L495.8,206.8 L496.7,207.6 L497.7,208.2 L498.7,208.8 L499.8,209.3 L500.9,209.7 L502.2,210.0 L503.5,210.3" stroke="#5e9e8b" stroke-width="1.2" stroke-opacity="1.0"/><path d="M289.6,211.5 L290.3,211.0 L291.1,210.4 L291.7,209.8 L292.4,209.2 L293.0,208.6 L293.6,208.0 L294.1,207.3 L294.7,206.6 L295.1,205.9 L295.6,205.1 L296.0,204.4 L296.4,203.6 L296.8,202.8 L297.2,202.0 L297.5,201.2 L297.8,200.3 L298.1,199.5 L298.4,198.6 L298.7,197.8 L298.9,196.9 L299.2,196.0 L299.4,195.1 L299.6,194.2 L299.8,193.3 L300.0,192.4 L300.2,191.5 L300.3,190.6 L300.5,189.6 L300.7,188.7 L300.9,187.8 L301.0,186.9 L301.2,186.0 L301.4,185.1 L301.5,184.2 L301.7,183.3 L301.9,182.4 L302.1,181.5 L302.2,180.6 L302.4,179.7 L302.6,178.8 L302.8,177.9 L303.0,177.0 L303.1,176.2 L303.3,175.3 L303.5,174.4 L303.7,173.5 L303.8,172.6 L304.0,171.8 L304.2,170.9 L304.4,170.0 L304.5,169.1 L304.7,168.2 L304.9,167.4 L305.0,166.5 L305.2,165.6 L305.4,164.7 L305.5,163.8 L305.7,163.0 L305.8,162.1 L306.0,161.2 L306.1,160.3 L306.2,159.4 L306.4,158.5 L306.5,157.6 L306.6,156.7 L306.7,155.8 L306.9,154.9 L307.0,154.0 L307.1,153.1 L307.2,152.2 L307.4,151.3 L307.5,150.4 L307.7,149.5 L307.9,148.6 L308.1,147.7 L308.3,146.8 L308.5,145.9 L308.7,145.1 L309.0,144.2 L309.2,143.4 L309.5,142.5 L309.9,141.7 L310.2,140.8 L310.6,140.0 L311.0,139.1 L311.4,138.3 L311.8,137.4 L312.3,136.5 L312.8,135.6 L313.3,134.8 L313.8,134.3 L314.4,134.3 L315.0,134.7 L315.6,135.4 L316.1,136.3 L316.5,137.2 L316.8,138.2 L317.1,139.1 L317.4,140.0 L317.6,141.0 L317.9,141.8 L318.1,142.7 L318.3,143.6 L318.6,144.4 L318.8,145.2 L319.1,146.1 L319.4,146.9 L319.6,147.8 L319.9,148.6 L320.2,149.5 L320.4,150.4 L320.7,151.3 L321.0,152.1 L321.3,153.0 L321.5,153.9 L321.8,154.8 L322.1,155.6 L322.3,156.5 L322.6,157.4 L322.8,158.3 L323.1,159.1 L323.3,160.0 L323.5,160.9 L323.8,161.8 L324.0,162.6 L324.2,163.5 L324.5,164.4 L324.7,165.2 L324.9,166.1 L325.1,167.0 L325.4,167.8 L325.6,168.7 L325.8,169.6 L326.1,170.4 L326.3,171.3 L326.6,172.2 L326.8,173.0 L327.1,173.9 L327.3,174.8 L327.6,175.6 L327.9,176.5 L328.1,177.4 L328.4,178.2 L328.7,179.1 L329.0,180.0 L329.4,180.8 L329.7,181.7 L330.0,182.6 L330.4,183.4 L330.7,184.3 L331.1,185.1 L331.5,186.0 L331.9,186.8 L332.3,187.6 L332.7,188.4 L333.2,189.2 L333.7,190.0 L334.1,190.7 L334.6,191.5 L335.2,192.2 L335.7,192.9 L336.3,193.5 L336.9,194.2 L337.5,194.8 L338.1,195.4 L338.7,196.0 L339.4,196.5 L340.1,197.0 L340.8,197.5 L341.6,197.9 L342.4,198.3 L343.1,198.7 L344.0,199.0 L344.8,199.3 L345.6,199.6 L346.5,199.9 L347.4,200.1 L348.3,200.3 L349.2,200.5 L350.1,200.7 L351.0,200.8 L352.0,200.9 L352.9,201.0 L353.8,201.1 L354.8,201.2 L355.7,201.3 L356.7,201.3 L357.6,201.4 L358.6,201.4 L359.5,201.4 L360.4,201.4 L361.4,201.4 L362.3,201.4 L363.2,201.4 L364.1,201.4 L365.1,201.4 L366.0,201.3 L366.9,201.3 L367.8,201.2 L368.7,201.2 L369.6,201.1 L370.5,201.1 L371.4,201.0 L372.3,200.9 L373.2,200.9 L374.1,200.8 L375.0,200.7 L375.9,200.6 L376.8,200.5 L377.7,200.4 L378.6,200.3 L379.5,200.3 L380.4,200.2 L381.3,200.1 L382.2,200.0 L383.0,199.9 L383.9,199.8 L384.8,199.7 L385.7,199.6 L386.6,199.5 L387.5,199.4 L388.4,199.3 L389.3,199.3 L390.2,199.2 L391.1,199.1 L391.9,199.0 L392.8,199.0 L393.7,198.9 L394.6,198.9 L395.5,198.8 L396.4,198.8 L397.3,198.7 L398.2,198.7 L399.1,198.7 L400.0,198.6 L400.9,198.6 L401.9,198.6 L402.8,198.6 L403.7,198.6 L404.6,198.6 L405.5,198.6 L406.4,198.6 L407.3,198.6 L408.2,198.6 L409.2,198.7 L410.1,198.7 L411.0,198.7 L411.9,198.7 L412.8,198.7 L413.7,198.8 L414.7,198.8 L415.6,198.8 L416.5,198.8 L417.4,198.8 L418.3,198.8 L419.2,198.8 L420.1,198.8 L421.1,198.8 L422.0,198.8 L422.9,198.8 L423.8,198.8 L424.7,198.8 L425.6,198.8 L426.5,198.7 L427.4,198.7 L428.3,198.6 L429.2,198.6 L430.1,198.5 L431.0,198.5 L431.9,198.4 L432.8,198.3 L433.7,198.2 L434.6,198.1 L435.5,198.0 L436.3,197.8 L437.2,197.7 L438.1,197.6 L439.0,197.4 L439.8,197.2 L440.7,197.0 L441.6,196.8 L442.4,196.6 L443.3,196.4 L444.1,196.1 L445.0,195.8 L445.8,195.5 L446.6,195.1 L447.4,194.8 L448.2,194.3 L448.9,193.8 L449.7,193.3 L450.4,192.8 L451.1,192.2 L451.8,191.6 L452.4,190.9 L453.1,190.3 L453.8,189.6 L454.4,188.9 L455.0,188.2 L455.6,187.5 L456.2,186.8 L456.8,186.1 L457.4,185.4 L458.0,184.6 L458.5,183.9 L459.1,183.2 L459.6,182.5 L460.2,181.8 L460.7,181.1 L461.2,180.3 L461.7,179.6 L462.2,178.8 L462.7,178.1 L463.1,177.3 L463.6,176.6 L464.0,175.8 L464.4,175.0 L464.8,174.2 L465.2,173.4 L465.6,172.6 L465.9,171.8 L466.3,171.0 L466.6,170.1 L466.9,169.3 L467.2,168.4 L467.6,167.6 L467.9,166.7 L468.1,165.8 L468.5,164.9 L468.8,164.1 L469.1,163.2 L469.4,162.4 L469.7,161.5 L470.1,160.7 L470.4,159.8 L470.8,159.0 L471.2,158.2 L471.6,157.3 L472.1,156.5 L472.6,155.7 L473.1,154.9 L473.7,154.0 L474.3,153.3 L474.9,152.8 L475.5,152.5 L476.2,152.6 L476.8,153.0 L477.5,153.6 L478.1,154.5 L478.6,155.4 L479.1,156.4 L479.5,157.4 L479.8,158.4 L480.1,159.4 L480.3,160.3 L480.5,161.2 L480.6,162.1 L480.8,163.0 L480.9,163.9 L481.0,164.7 L481.2,165.6 L481.4,166.5 L481.6,167.3 L481.8,168.2 L482.0,169.0 L482.2,169.9 L482.4,170.7 L482.7,171.6 L482.9,172.4 L483.2,173.3 L483.5,174.1 L483.7,175.0 L484.0,175.8 L484.3,176.7 L484.6,177.5 L484.8,178.4 L485.1,179.2 L485.4,180.1 L485.7,180.9 L486.0,181.8 L486.3,182.6 L486.6,183.5 L486.8,184.4 L487.1,185.3 L487.4,186.1 L487.7,187.0 L487.9,187.9 L488.2,188.8 L488.5,189.7 L488.7,190.6 L489.0,191.5 L489.2,192.4 L489.5,193.3 L489.8,194.2 L490.0,195.1 L490.3,196.0 L490.6,196.9 L490.9,197.8 L491.2,198.6 L491.6,199.5 L491.9,200.3 L492.3,201.1 L492.7,201.9 L493.1,202.7 L493.6,203.4 L494.0,204.1 L494.5,204.8 L495.1,205.5 L495.6,206.1 L496.2,206.7 L496.8,207.3 L497.5,207.8 L498.2,208.3 L499.0,208.8 L499.7,209.2 L500.6,209.6 L501.5,209.9 L502.4,210.2 L503.4,210.5" stroke="#c98a6c" stroke-width="1.2" stroke-opacity="1.0"/><path d="M289.4,211.2 L290.4,211.0 L291.4,210.8 L292.4,210.7 L293.5,210.5 L294.6,210.2 L295.7,210.0 L296.7,209.7 L297.8,209.4 L298.9,209.1 L299.9,208.7 L300.8,208.3 L301.8,207.8 L302.7,207.2 L303.5,206.6 L304.3,206.0 L305.2,205.4 L305.9,204.7 L306.7,204.0 L307.5,203.3 L308.3,202.5 L309.0,201.8 L309.8,201.1 L310.6,200.3 L311.4,199.6 L312.3,198.8 L313.2,198.1 L314.0,197.5 L315.0,196.9 L315.9,196.4 L316.8,196.0 L317.8,195.7 L318.7,195.6 L319.7,195.6 L320.7,195.7 L321.7,195.9 L322.7,196.2 L323.7,196.6 L324.7,197.0 L325.7,197.5 L326.7,197.9 L327.7,198.4 L328.7,198.9 L329.8,199.3 L330.8,199.8 L331.8,200.2 L332.8,200.6 L333.9,201.0 L334.9,201.4 L335.9,201.7 L337.0,202.0 L338.0,202.4 L339.1,202.7 L340.1,202.9 L341.1,203.2 L342.2,203.4 L343.2,203.7 L344.3,203.9 L345.3,204.1 L346.4,204.3 L347.4,204.5 L348.5,204.6 L349.5,204.8 L350.6,204.9 L351.6,205.0 L352.7,205.1 L353.7,205.2 L354.8,205.3 L355.8,205.3 L356.9,205.4 L357.9,205.4 L359.0,205.5 L360.0,205.5 L361.1,205.5 L362.2,205.5 L363.2,205.5 L364.3,205.4 L365.3,205.4 L366.4,205.3 L367.5,205.3 L368.5,205.2 L369.6,205.1 L370.6,205.1 L371.7,205.0 L372.7,204.9 L373.8,204.8 L374.9,204.6 L375.9,204.5 L377.0,204.4 L378.0,204.3 L379.1,204.1 L380.2,204.0 L381.2,203.8 L382.3,203.6 L383.3,203.5 L384.4,203.3 L385.4,203.1 L386.5,202.9 L387.5,202.7 L388.6,202.6 L389.6,202.4 L390.7,202.2 L391.8,202.0 L392.8,201.8 L393.8,201.5 L394.9,201.3 L395.9,201.1 L397.0,200.9 L398.0,200.7 L399.1,200.4 L400.1,200.2 L401.2,200.0 L402.2,199.8 L403.2,199.5 L404.3,199.3 L405.3,199.0 L406.4,198.8 L407.4,198.6 L408.4,198.3 L409.5,198.1 L410.5,197.8 L411.5,197.5 L412.6,197.3 L413.6,197.0 L414.6,196.8 L415.7,196.5 L416.7,196.2 L417.7,196.0 L418.7,195.7 L419.8,195.4 L420.8,195.2 L421.8,194.9 L422.8,194.6 L423.9,194.3 L424.9,194.0 L425.9,193.8 L426.9,193.5 L427.9,193.2 L428.9,192.9 L429.9,192.6 L431.0,192.3 L432.0,192.1 L433.0,191.8 L434.0,191.5 L435.0,191.2 L436.0,190.9 L437.0,190.5 L438.0,190.2 L439.0,189.9 L440.0,189.5 L441.1,189.2 L442.1,188.8 L443.1,188.4 L444.1,188.0 L445.1,187.6 L446.1,187.2 L447.1,186.7 L448.1,186.2 L449.0,185.7 L449.9,185.1 L450.8,184.5 L451.6,183.9 L452.4,183.2 L453.1,182.5 L453.7,181.7 L454.4,180.9 L455.0,180.1 L455.5,179.2 L456.0,178.3 L456.5,177.4 L457.0,176.4 L457.4,175.5 L457.8,174.5 L458.1,173.4 L458.5,172.4 L458.8,171.4 L459.1,170.3 L459.4,169.3 L459.6,168.2 L459.9,167.1 L460.1,166.1 L460.4,165.0 L460.6,164.0 L460.8,162.9 L461.1,161.8 L461.3,160.8 L461.5,159.7 L461.7,158.7 L461.9,157.7 L462.1,156.6 L462.3,155.6 L462.5,154.5 L462.7,153.5 L462.9,152.5 L463.1,151.4 L463.3,150.4 L463.4,149.4 L463.6,148.3 L463.8,147.3 L464.0,146.2 L464.2,145.2 L464.4,144.1 L464.5,143.1 L464.7,142.0 L464.9,141.0 L465.1,139.9 L465.2,138.9 L465.4,137.8 L465.6,136.8 L465.8,135.7 L465.9,134.7 L466.1,133.6 L466.3,132.5 L466.5,131.5 L466.6,130.4 L466.8,129.4 L467.0,128.3 L467.1,127.3 L467.3,126.2 L467.5,125.1 L467.6,124.1 L467.8,123.0 L467.9,122.0 L468.1,120.9 L468.3,119.9 L468.4,118.8 L468.6,117.7 L468.7,116.7 L468.9,115.6 L469.0,114.6 L469.2,113.5 L469.4,112.5 L469.5,111.4 L469.7,110.4 L469.8,109.3 L470.0,108.3 L470.1,107.3 L470.3,106.2 L470.4,105.2 L470.6,104.1 L470.7,103.0 L470.9,102.0 L471.1,100.9 L471.2,99.9 L471.4,98.8 L471.6,97.8 L471.7,96.7 L471.9,95.6 L472.1,94.6 L472.3,93.5 L472.4,92.5 L472.6,91.4 L472.8,90.4 L472.9,89.3 L473.1,88.3 L473.2,87.2 L473.4,86.2 L473.5,85.2 L473.6,84.1 L473.8,83.1 L473.9,82.1 L474.0,81.0 L474.1,80.0 L474.2,78.9 L474.4,77.9 L474.5,76.8 L474.6,75.7 L474.7,74.6 L474.8,73.5 L474.9,72.3 L475.0,71.2 L475.2,70.0 L475.4,68.8 L475.6,67.7 L475.9,66.5 L476.3,65.5 L476.6,65.0 L477.0,65.4 L477.4,66.3 L477.7,67.5 L477.9,68.6 L478.1,69.8 L478.3,70.9 L478.4,72.0 L478.5,73.1 L478.6,74.1 L478.7,75.2 L478.7,76.3 L478.8,77.3 L478.9,78.4 L479.0,79.5 L479.1,80.5 L479.2,81.6 L479.3,82.7 L479.4,83.7 L479.5,84.8 L479.6,85.9 L479.7,86.9 L479.8,88.0 L479.9,89.1 L480.0,90.1 L480.1,91.2 L480.2,92.3 L480.3,93.3 L480.4,94.4 L480.5,95.5 L480.6,96.5 L480.7,97.6 L480.8,98.7 L480.9,99.7 L481.0,100.8 L481.1,101.8 L481.2,102.9 L481.3,104.0 L481.4,105.0 L481.5,106.1 L481.7,107.2 L481.8,108.2 L481.9,109.3 L482.0,110.3 L482.1,111.4 L482.2,112.5 L482.3,113.5 L482.4,114.6 L482.5,115.6 L482.6,116.7 L482.7,117.8 L482.8,118.8 L483.0,119.9 L483.1,120.9 L483.2,122.0 L483.3,123.0 L483.4,124.1 L483.5,125.2 L483.6,126.2 L483.7,127.3 L483.8,128.3 L483.9,129.4 L484.0,130.4 L484.1,131.5 L484.2,132.6 L484.4,133.6 L484.5,134.7 L484.6,135.7 L484.7,136.8 L484.8,137.9 L484.9,138.9 L485.0,140.0 L485.1,141.0 L485.2,142.1 L485.3,143.1 L485.4,144.2 L485.5,145.3 L485.6,146.3 L485.7,147.4 L485.8,148.4 L485.9,149.5 L486.0,150.6 L486.1,151.6 L486.2,152.7 L486.3,153.7 L486.5,154.8 L486.6,155.9 L486.7,156.9 L486.8,158.0 L486.9,159.1 L487.0,160.1 L487.1,161.2 L487.2,162.2 L487.3,163.3 L487.4,164.4 L487.5,165.4 L487.6,166.5 L487.7,167.6 L487.7,168.6 L487.8,169.7 L487.9,170.8 L488.0,171.8 L488.1,172.9 L488.2,174.0 L488.3,175.0 L488.4,176.1 L488.5,177.2 L488.6,178.3 L488.7,179.3 L488.8,180.4 L488.9,181.5 L489.0,182.5 L489.1,183.6 L489.2,184.7 L489.3,185.8 L489.4,186.8 L489.5,187.9 L489.6,189.0 L489.7,190.0 L489.9,191.1 L490.1,192.1 L490.2,193.2 L490.4,194.2 L490.7,195.2 L490.9,196.2 L491.2,197.2 L491.5,198.2 L491.9,199.2 L492.2,200.2 L492.6,201.2 L493.1,202.1 L493.5,203.0 L494.1,204.0 L494.6,204.9 L495.2,205.7 L495.9,206.6 L496.6,207.4 L497.4,208.1 L498.2,208.7 L499.1,209.3 L500.1,209.7 L501.1,210.0 L502.2,210.2 L503.5,210.2" stroke="#8886b8" stroke-width="1.2" stroke-opacity="1.0"/><path d="M289.4,211.2 L290.4,211.0 L291.5,210.7 L292.5,210.3 L293.5,210.0 L294.5,209.6 L295.5,209.2 L296.5,208.7 L297.5,208.2 L298.4,207.7 L299.3,207.1 L300.2,206.5 L301.1,205.9 L301.9,205.2 L302.7,204.5 L303.5,203.7 L304.2,202.9 L304.8,202.1 L305.4,201.1 L305.9,200.2 L306.5,199.3 L307.0,198.4 L307.5,197.4 L307.9,196.5 L308.4,195.5 L308.8,194.5 L309.2,193.6 L309.6,192.5 L310.0,191.5 L310.5,190.5 L310.9,189.4 L311.4,188.4 L312.0,187.4 L312.7,186.4 L313.4,185.5 L314.2,184.7 L315.1,184.2 L315.9,184.0 L316.7,184.1 L317.5,184.5 L318.3,185.2 L319.0,186.0 L319.8,186.9 L320.6,187.9 L321.3,188.9 L322.1,189.8 L322.8,190.7 L323.6,191.6 L324.3,192.4 L325.1,193.2 L325.9,193.9 L326.7,194.6 L327.5,195.3 L328.3,196.0 L329.1,196.6 L330.0,197.2 L330.9,197.8 L331.8,198.3 L332.7,198.8 L333.6,199.3 L334.5,199.8 L335.5,200.2 L336.4,200.7 L337.4,201.1 L338.4,201.5 L339.4,201.8 L340.4,202.2 L341.4,202.5 L342.5,202.8 L343.5,203.0 L344.6,203.3 L345.6,203.6 L346.7,203.8 L347.7,204.0 L348.8,204.2 L349.9,204.3 L351.0,204.5 L352.0,204.7 L353.1,204.8 L354.2,204.9 L355.3,205.0 L356.4,205.1 L357.4,205.2 L358.5,205.2 L359.6,205.3 L360.7,205.3 L361.8,205.3 L362.8,205.4 L363.9,205.4 L365.0,205.4 L366.1,205.3 L367.2,205.3 L368.2,205.3 L369.3,205.2 L370.4,205.2 L371.4,205.1 L372.5,205.0 L373.6,204.9 L374.6,204.8 L375.7,204.7 L376.8,204.6 L377.8,204.5 L378.9,204.4 L380.0,204.2 L381.0,204.1 L382.1,203.9 L383.2,203.8 L384.2,203.6 L385.3,203.4 L386.3,203.3 L387.4,203.1 L388.4,202.9 L389.5,202.7 L390.6,202.5 L391.6,202.3 L392.7,202.1 L393.7,201.8 L394.8,201.6 L395.8,201.4 L396.9,201.1 L397.9,200.9 L399.0,200.7 L400.0,200.4 L401.1,200.2 L402.1,199.9 L403.2,199.7 L404.2,199.4 L405.3,199.2 L406.3,198.9 L407.4,198.7 L408.4,198.5 L409.5,198.2 L410.5,198.0 L411.6,197.8 L412.6,197.6 L413.7,197.4 L414.7,197.2 L415.8,197.0 L416.8,196.8 L417.9,196.6 L419.0,196.5 L420.0,196.3 L421.1,196.2 L422.2,196.1 L423.2,195.9 L424.3,195.8 L425.4,195.7 L426.4,195.6 L427.5,195.5 L428.6,195.3 L429.6,195.2 L430.7,195.0 L431.8,194.9 L432.8,194.7 L433.9,194.5 L434.9,194.3 L436.0,194.1 L437.0,193.9 L438.1,193.6 L439.1,193.3 L440.2,193.0 L441.2,192.6 L442.2,192.3 L443.2,191.9 L444.2,191.4 L445.2,191.0 L446.2,190.5 L447.2,189.9 L448.1,189.4 L449.0,188.8 L449.9,188.2 L450.8,187.6 L451.6,186.9 L452.5,186.2 L453.2,185.5 L454.0,184.7 L454.7,183.9 L455.4,183.1 L456.0,182.3 L456.6,181.4 L457.1,180.5 L457.6,179.6 L458.1,178.7 L458.5,177.8 L459.0,176.8 L459.3,175.8 L459.7,174.8 L460.0,173.8 L460.3,172.8 L460.6,171.7 L460.9,170.7 L461.2,169.6 L461.4,168.6 L461.6,167.5 L461.9,166.4 L462.1,165.3 L462.3,164.3 L462.5,163.2 L462.7,162.1 L462.9,161.1 L463.1,160.0 L463.3,158.9 L463.5,157.8 L463.7,156.8 L463.9,155.7 L464.1,154.6 L464.3,153.6 L464.4,152.5 L464.6,151.4 L464.8,150.4 L465.0,149.3 L465.1,148.2 L465.3,147.2 L465.5,146.1 L465.6,145.0 L465.8,144.0 L465.9,142.9 L466.1,141.8 L466.3,140.8 L466.4,139.7 L466.6,138.6 L466.7,137.6 L466.9,136.5 L467.0,135.4 L467.2,134.4 L467.3,133.3 L467.5,132.2 L467.6,131.2 L467.8,130.1 L467.9,129.1 L468.1,128.0 L468.2,126.9 L468.3,125.9 L468.5,124.8 L468.6,123.8 L468.8,122.7 L468.9,121.6 L469.1,120.6 L469.2,119.5 L469.4,118.5 L469.5,117.4 L469.7,116.4 L469.8,115.3 L470.0,114.2 L470.1,113.2 L470.3,112.1 L470.5,111.1 L470.6,110.0 L470.8,109.0 L470.9,107.9 L471.1,106.9 L471.3,105.8 L471.4,104.8 L471.6,103.7 L471.8,102.7 L472.0,101.6 L472.1,100.6 L472.3,99.5 L472.5,98.4 L472.6,97.4 L472.8,96.3 L472.9,95.2 L473.1,94.2 L473.2,93.1 L473.4,92.0 L473.5,90.9 L473.6,89.7 L473.7,88.6 L473.8,87.5 L473.9,86.3 L474.0,85.2 L474.0,84.0 L474.1,82.8 L474.2,81.6 L474.3,80.5 L474.4,79.3 L474.5,78.2 L474.7,77.0 L474.8,75.9 L475.1,74.8 L475.3,73.8 L475.7,72.8 L476.0,72.0 L476.4,71.6 L476.8,71.7 L477.2,72.4 L477.5,73.3 L477.8,74.4 L478.1,75.4 L478.3,76.5 L478.5,77.6 L478.6,78.8 L478.7,79.9 L478.8,81.1 L478.9,82.2 L478.9,83.4 L479.0,84.6 L479.0,85.7 L479.1,86.9 L479.2,88.0 L479.2,89.1 L479.3,90.3 L479.4,91.4 L479.5,92.5 L479.6,93.6 L479.7,94.7 L479.8,95.8 L479.9,96.9 L480.0,98.0 L480.1,99.0 L480.2,100.1 L480.4,101.2 L480.5,102.2 L480.6,103.3 L480.7,104.4 L480.9,105.4 L481.0,106.5 L481.1,107.5 L481.3,108.6 L481.4,109.7 L481.5,110.7 L481.6,111.8 L481.8,112.8 L481.9,113.9 L482.0,114.9 L482.1,116.0 L482.3,117.1 L482.4,118.1 L482.5,119.2 L482.6,120.2 L482.7,121.3 L482.9,122.4 L483.0,123.4 L483.1,124.5 L483.2,125.6 L483.3,126.6 L483.4,127.7 L483.6,128.7 L483.7,129.8 L483.8,130.9 L483.9,131.9 L484.0,133.0 L484.1,134.1 L484.2,135.1 L484.3,136.2 L484.5,137.3 L484.6,138.3 L484.7,139.4 L484.8,140.5 L484.9,141.6 L485.0,142.6 L485.1,143.7 L485.2,144.8 L485.3,145.8 L485.4,146.9 L485.5,148.0 L485.6,149.1 L485.7,150.1 L485.8,151.2 L485.9,152.3 L486.0,153.3 L486.1,154.4 L486.2,155.5 L486.3,156.6 L486.4,157.6 L486.5,158.7 L486.6,159.8 L486.7,160.9 L486.8,161.9 L486.9,163.0 L487.0,164.1 L487.1,165.2 L487.2,166.3 L487.3,167.3 L487.4,168.4 L487.5,169.5 L487.6,170.6 L487.7,171.6 L487.8,172.7 L487.9,173.8 L488.0,174.9 L488.1,176.0 L488.2,177.0 L488.3,178.1 L488.4,179.2 L488.5,180.3 L488.6,181.4 L488.6,182.4 L488.7,183.5 L488.8,184.6 L488.9,185.7 L489.1,186.8 L489.2,187.8 L489.3,188.9 L489.4,190.0 L489.6,191.0 L489.8,192.1 L490.0,193.1 L490.2,194.2 L490.4,195.2 L490.7,196.2 L491.0,197.2 L491.3,198.2 L491.6,199.2 L492.0,200.2 L492.4,201.2 L492.9,202.1 L493.4,203.0 L493.9,204.0 L494.5,204.9 L495.1,205.8 L495.8,206.6 L496.5,207.4 L497.3,208.1 L498.1,208.8 L499.0,209.3 L500.0,209.7 L501.1,210.0 L502.2,210.2 L503.5,210.2" stroke="#333333" stroke-width="1.2" stroke-opacity="1.0"/></g><rect x="346.3" y="5.4" width="99.5" height="56.1" fill="#fff" stroke="#555" stroke-width="0.8"/><text x="396.05" y="14.70" font-size="7.9" fill="#222" text-anchor="middle">CpG Island annotation</text><line x1="353.1" x2="368.1" y1="24.40" y2="24.40" stroke="#5e9e8b" stroke-width="1.1"/><text x="374.9" y="27.10" font-size="7.9" fill="#222">Island</text><line x1="353.1" x2="368.1" y1="33.70" y2="33.70" stroke="#c98a6c" stroke-width="1.1"/><text x="374.9" y="36.40" font-size="7.9" fill="#222">&lt;2 kbp from Island</text><line x1="353.1" x2="368.1" y1="43.00" y2="43.00" stroke="#8886b8" stroke-width="1.1"/><text x="374.9" y="45.70" font-size="7.9" fill="#222">2-4 kbp from Island</text><line x1="353.1" x2="368.1" y1="52.30" y2="52.30" stroke="#333333" stroke-width="1.1"/><text x="374.9" y="55.00" font-size="7.9" fill="#222">Non-Island</text><rect x="289.4" y="5.4" width="214.00" height="214.00" fill="none" stroke="#383838" stroke-width="1.3"/><line x1="286.10" x2="289.4" y1="211.47" y2="211.47" stroke="#383838" stroke-width="1.1"/><line x1="503.4" x2="506.70" y1="211.47" y2="211.47" stroke="#383838" stroke-width="1.1"/><text transform="translate(514.60,211.47) rotate(-90)" x="0" y="0" font-size="8.2" fill="#333" text-anchor="middle">0</text><line x1="287.60" x2="289.4" y1="186.71" y2="186.71" stroke="#383838" stroke-width="1.1"/><line x1="503.4" x2="505.20" y1="186.71" y2="186.71" stroke="#383838" stroke-width="1.1"/><line x1="286.10" x2="289.4" y1="161.94" y2="161.94" stroke="#383838" stroke-width="1.1"/><line x1="503.4" x2="506.70" y1="161.94" y2="161.94" stroke="#383838" stroke-width="1.1"/><text transform="translate(514.60,161.94) rotate(-90)" x="0" y="0" font-size="8.2" fill="#333" text-anchor="middle">2</text><line x1="287.60" x2="289.4" y1="137.17" y2="137.17" stroke="#383838" stroke-width="1.1"/><line x1="503.4" x2="505.20" y1="137.17" y2="137.17" stroke="#383838" stroke-width="1.1"/><line x1="286.10" x2="289.4" y1="112.40" y2="112.40" stroke="#383838" stroke-width="1.1"/><line x1="503.4" x2="506.70" y1="112.40" y2="112.40" stroke="#383838" stroke-width="1.1"/><text transform="translate(514.60,112.40) rotate(-90)" x="0" y="0" font-size="8.2" fill="#333" text-anchor="middle">4</text><line x1="287.60" x2="289.4" y1="87.63" y2="87.63" stroke="#383838" stroke-width="1.1"/><line x1="503.4" x2="505.20" y1="87.63" y2="87.63" stroke="#383838" stroke-width="1.1"/><line x1="286.10" x2="289.4" y1="62.86" y2="62.86" stroke="#383838" stroke-width="1.1"/><line x1="503.4" x2="506.70" y1="62.86" y2="62.86" stroke="#383838" stroke-width="1.1"/><text transform="translate(514.60,62.86) rotate(-90)" x="0" y="0" font-size="8.2" fill="#333" text-anchor="middle">6</text><line x1="287.60" x2="289.4" y1="38.09" y2="38.09" stroke="#383838" stroke-width="1.1"/><line x1="503.4" x2="505.20" y1="38.09" y2="38.09" stroke="#383838" stroke-width="1.1"/><line x1="286.10" x2="289.4" y1="13.33" y2="13.33" stroke="#383838" stroke-width="1.1"/><line x1="503.4" x2="506.70" y1="13.33" y2="13.33" stroke="#383838" stroke-width="1.1"/><text transform="translate(514.60,13.33) rotate(-90)" x="0" y="0" font-size="8.2" fill="#333" text-anchor="middle">8</text><line x1="297.33" x2="297.33" y1="219.4" y2="222.40" stroke="#383838" stroke-width="1.1"/><text x="297.33" y="230.90" font-size="8.2" fill="#333" text-anchor="middle">0.0</text><line x1="336.96" x2="336.96" y1="219.4" y2="222.40" stroke="#383838" stroke-width="1.1"/><text x="336.96" y="230.90" font-size="8.2" fill="#333" text-anchor="middle">0.2</text><line x1="376.59" x2="376.59" y1="219.4" y2="222.40" stroke="#383838" stroke-width="1.1"/><text x="376.59" y="230.90" font-size="8.2" fill="#333" text-anchor="middle">0.4</text><line x1="416.21" x2="416.21" y1="219.4" y2="222.40" stroke="#383838" stroke-width="1.1"/><text x="416.21" y="230.90" font-size="8.2" fill="#333" text-anchor="middle">0.6</text><line x1="455.84" x2="455.84" y1="219.4" y2="222.40" stroke="#383838" stroke-width="1.1"/><text x="455.84" y="230.90" font-size="8.2" fill="#333" text-anchor="middle">0.8</text><line x1="495.47" x2="495.47" y1="219.4" y2="222.40" stroke="#383838" stroke-width="1.1"/><text x="495.47" y="230.90" font-size="8.2" fill="#333" text-anchor="middle">1.0</text><line x1="396.40" x2="396.40" y1="219.4" y2="221.20" stroke="#383838" stroke-width="1.1"/><text x="271.5" y="13.30" font-size="11.6" font-weight="bold" fill="#000">B</text><clipPath id="clC"><rect x="43.65" y="244.5" width="214.15" height="214.10000000000002"/></clipPath><g clip-path="url(#clC)" fill="none" stroke-linejoin="round"><path d="M43.9,450.4 L44.3,449.7 L44.7,449.0 L45.2,448.3 L45.6,447.6 L46.0,446.9 L46.4,446.2 L46.8,445.5 L47.2,444.7 L47.6,444.0 L47.9,443.3 L48.3,442.5 L48.7,441.8 L49.0,441.0 L49.4,440.2 L49.7,439.5 L50.0,438.7 L50.4,437.9 L50.7,437.1 L51.0,436.3 L51.3,435.5 L51.6,434.7 L51.9,434.0 L52.2,433.2 L52.5,432.4 L52.7,431.6 L53.0,430.7 L53.3,429.9 L53.5,429.1 L53.8,428.3 L54.0,427.5 L54.3,426.7 L54.5,425.9 L54.7,425.1 L55.0,424.3 L55.2,423.5 L55.4,422.7 L55.6,421.9 L55.8,421.1 L56.0,420.3 L56.2,419.5 L56.4,418.7 L56.6,418.0 L56.8,417.2 L57.0,416.4 L57.2,415.6 L57.4,414.8 L57.6,414.0 L57.8,413.2 L58.0,412.4 L58.2,411.6 L58.4,410.8 L58.6,410.0 L58.9,409.2 L59.1,408.4 L59.4,407.6 L59.6,406.8 L59.9,406.0 L60.2,405.2 L60.5,404.4 L60.8,403.6 L61.1,402.7 L61.4,401.9 L61.8,401.1 L62.2,400.3 L62.6,399.5 L63.0,398.7 L63.5,398.0 L64.0,397.3 L64.5,396.7 L65.1,396.1 L65.8,395.6 L66.5,395.2 L67.2,394.8 L68.0,394.6 L68.7,394.5 L69.4,394.6 L70.1,394.8 L70.8,395.2 L71.3,395.8 L71.8,396.5 L72.3,397.3 L72.7,398.2 L73.1,399.2 L73.6,400.0 L74.0,400.9 L74.4,401.6 L74.8,402.4 L75.2,403.1 L75.6,403.8 L76.0,404.5 L76.4,405.2 L76.7,405.9 L77.1,406.6 L77.4,407.3 L77.7,408.1 L78.1,408.8 L78.4,409.6 L78.7,410.3 L79.0,411.1 L79.4,411.9 L79.7,412.7 L80.0,413.4 L80.3,414.2 L80.6,415.0 L81.0,415.8 L81.3,416.6 L81.6,417.3 L82.0,418.1 L82.3,418.9 L82.7,419.7 L83.1,420.4 L83.4,421.2 L83.8,422.0 L84.2,422.7 L84.6,423.5 L85.0,424.2 L85.5,424.9 L85.9,425.7 L86.3,426.4 L86.8,427.1 L87.3,427.7 L87.8,428.4 L88.3,429.1 L88.8,429.7 L89.4,430.4 L89.9,431.0 L90.5,431.6 L91.1,432.1 L91.7,432.7 L92.4,433.3 L93.0,433.8 L93.6,434.3 L94.3,434.8 L95.0,435.3 L95.7,435.8 L96.4,436.2 L97.1,436.6 L97.8,437.0 L98.5,437.4 L99.2,437.8 L100.0,438.1 L100.7,438.5 L101.5,438.8 L102.3,439.0 L103.0,439.3 L103.8,439.5 L104.6,439.8 L105.4,440.0 L106.2,440.2 L107.0,440.4 L107.8,440.5 L108.6,440.7 L109.4,440.8 L110.2,440.9 L111.0,441.0 L111.9,441.1 L112.7,441.1 L113.5,441.2 L114.4,441.2 L115.2,441.3 L116.0,441.3 L116.9,441.3 L117.7,441.3 L118.6,441.3 L119.4,441.3 L120.3,441.2 L121.2,441.2 L122.0,441.1 L122.9,441.1 L123.7,441.0 L124.6,440.9 L125.4,440.9 L126.3,440.8 L127.2,440.7 L128.0,440.6 L128.9,440.5 L129.7,440.4 L130.6,440.3 L131.4,440.2 L132.3,440.1 L133.1,440.0 L134.0,439.8 L134.8,439.7 L135.6,439.6 L136.5,439.5 L137.3,439.4 L138.2,439.3 L139.0,439.1 L139.8,439.0 L140.6,438.9 L141.5,438.8 L142.3,438.7 L143.1,438.6 L143.9,438.5 L144.8,438.4 L145.6,438.3 L146.4,438.2 L147.2,438.1 L148.0,438.0 L148.8,437.9 L149.6,437.8 L150.5,437.7 L151.3,437.7 L152.1,437.6 L152.9,437.5 L153.7,437.5 L154.5,437.4 L155.3,437.4 L156.2,437.4 L157.0,437.3 L157.8,437.3 L158.6,437.3 L159.4,437.3 L160.3,437.3 L161.1,437.3 L161.9,437.3 L162.7,437.4 L163.6,437.4 L164.4,437.5 L165.2,437.5 L166.0,437.6 L166.9,437.6 L167.7,437.7 L168.5,437.8 L169.4,437.8 L170.2,437.9 L171.1,438.0 L171.9,438.1 L172.7,438.1 L173.6,438.2 L174.4,438.3 L175.3,438.3 L176.1,438.4 L177.0,438.5 L177.8,438.5 L178.7,438.6 L179.5,438.6 L180.4,438.6 L181.2,438.6 L182.1,438.6 L183.0,438.6 L183.8,438.6 L184.7,438.6 L185.5,438.6 L186.4,438.5 L187.3,438.5 L188.1,438.4 L189.0,438.3 L189.8,438.2 L190.7,438.1 L191.5,437.9 L192.4,437.8 L193.2,437.6 L194.0,437.4 L194.8,437.2 L195.6,437.0 L196.4,436.7 L197.2,436.4 L198.0,436.1 L198.8,435.8 L199.5,435.5 L200.3,435.1 L201.0,434.8 L201.7,434.4 L202.4,433.9 L203.1,433.5 L203.8,433.0 L204.4,432.5 L205.1,432.0 L205.7,431.4 L206.3,430.9 L206.9,430.3 L207.5,429.7 L208.0,429.1 L208.6,428.4 L209.1,427.8 L209.6,427.1 L210.1,426.5 L210.6,425.8 L211.1,425.1 L211.6,424.4 L212.0,423.7 L212.5,422.9 L212.9,422.2 L213.3,421.5 L213.7,420.8 L214.1,420.0 L214.5,419.3 L214.9,418.6 L215.3,417.8 L215.6,417.1 L216.0,416.3 L216.3,415.6 L216.7,414.9 L217.0,414.1 L217.3,413.4 L217.6,412.6 L217.9,411.9 L218.2,411.1 L218.6,410.3 L218.8,409.6 L219.1,408.8 L219.4,408.1 L219.7,407.3 L220.0,406.5 L220.3,405.7 L220.6,405.0 L220.8,404.2 L221.1,403.4 L221.4,402.6 L221.7,401.8 L221.9,401.0 L222.2,400.2 L222.5,399.4 L222.8,398.6 L223.1,397.7 L223.3,396.9 L223.6,396.1 L223.9,395.2 L224.2,394.4 L224.5,393.6 L224.8,392.7 L225.1,391.8 L225.4,391.0 L225.8,390.1 L226.1,389.3 L226.5,388.5 L226.9,387.8 L227.4,387.2 L228.0,386.7 L228.6,386.3 L229.3,386.1 L229.9,386.1 L230.6,386.3 L231.3,386.7 L231.9,387.3 L232.4,388.0 L233.0,388.7 L233.4,389.4 L233.8,390.2 L234.1,391.0 L234.4,391.8 L234.7,392.6 L234.9,393.5 L235.1,394.3 L235.3,395.2 L235.5,396.0 L235.7,396.9 L235.8,397.7 L236.0,398.6 L236.2,399.4 L236.3,400.2 L236.5,401.0 L236.7,401.9 L236.9,402.7 L237.1,403.5 L237.3,404.3 L237.6,405.1 L237.8,405.9 L238.0,406.7 L238.2,407.4 L238.5,408.2 L238.7,409.0 L238.9,409.8 L239.2,410.6 L239.4,411.4 L239.7,412.2 L239.9,412.9 L240.1,413.7 L240.4,414.5 L240.6,415.3 L240.8,416.1 L241.1,416.9 L241.3,417.7 L241.5,418.5 L241.7,419.3 L241.9,420.1 L242.1,420.9 L242.4,421.8 L242.6,422.6 L242.8,423.4 L243.0,424.3 L243.2,425.1 L243.4,425.9 L243.6,426.8 L243.8,427.6 L244.0,428.4 L244.2,429.2 L244.4,430.1 L244.7,430.9 L244.9,431.7 L245.1,432.5 L245.4,433.3 L245.7,434.1 L245.9,434.9 L246.2,435.7 L246.5,436.5 L246.8,437.3 L247.1,438.0 L247.5,438.8 L247.8,439.5 L248.2,440.3 L248.6,441.0 L249.0,441.7 L249.4,442.4 L249.9,443.0 L250.3,443.7 L250.8,444.4 L251.3,445.0 L251.8,445.6 L252.4,446.2 L253.0,446.8 L253.6,447.4 L254.2,447.9 L254.9,448.4 L255.5,448.9 L256.3,449.4 L257.0,449.9 L257.8,450.3" stroke="#b9505f" stroke-width="1.2" stroke-opacity="1.0"/><path d="M43.6,449.0 L43.9,448.1 L44.1,447.2 L44.4,446.3 L44.6,445.4 L44.9,444.5 L45.2,443.6 L45.4,442.7 L45.6,441.8 L45.9,440.9 L46.1,440.0 L46.4,439.1 L46.6,438.2 L46.8,437.4 L47.1,436.5 L47.3,435.6 L47.5,434.7 L47.7,433.8 L47.9,432.9 L48.2,432.0 L48.4,431.1 L48.6,430.2 L48.8,429.3 L49.0,428.4 L49.2,427.5 L49.4,426.6 L49.6,425.7 L49.8,424.8 L50.0,423.9 L50.2,423.0 L50.3,422.1 L50.5,421.2 L50.7,420.3 L50.9,419.4 L51.1,418.5 L51.2,417.6 L51.4,416.7 L51.6,415.8 L51.8,414.8 L51.9,413.9 L52.1,413.0 L52.3,412.1 L52.4,411.2 L52.6,410.3 L52.8,409.4 L52.9,408.5 L53.1,407.6 L53.2,406.7 L53.4,405.8 L53.5,404.9 L53.7,403.9 L53.8,403.0 L54.0,402.1 L54.1,401.2 L54.3,400.3 L54.4,399.4 L54.6,398.5 L54.7,397.6 L54.8,396.6 L55.0,395.7 L55.1,394.8 L55.3,393.9 L55.4,393.0 L55.5,392.0 L55.7,391.1 L55.8,390.2 L55.9,389.3 L56.1,388.4 L56.2,387.4 L56.3,386.5 L56.5,385.6 L56.6,384.7 L56.8,383.7 L56.9,382.8 L57.1,381.9 L57.2,381.0 L57.4,380.1 L57.6,379.2 L57.7,378.3 L57.9,377.4 L58.2,376.5 L58.4,375.6 L58.6,374.7 L58.9,373.9 L59.2,373.0 L59.5,372.2 L59.8,371.3 L60.1,370.5 L60.5,369.7 L60.8,368.8 L61.2,368.0 L61.5,367.1 L61.9,366.2 L62.1,365.2 L62.4,364.2 L62.6,363.2 L62.9,362.1 L63.2,361.1 L63.5,360.2 L63.9,359.3 L64.5,358.6 L65.1,358.1 L65.7,357.9 L66.4,358.2 L67.0,358.8 L67.5,359.6 L67.9,360.4 L68.3,361.3 L68.6,362.3 L68.9,363.2 L69.2,364.2 L69.4,365.2 L69.6,366.2 L69.8,367.1 L70.1,368.1 L70.3,369.0 L70.5,369.9 L70.7,370.9 L70.9,371.8 L71.1,372.7 L71.3,373.6 L71.5,374.5 L71.7,375.4 L71.9,376.3 L72.1,377.2 L72.3,378.0 L72.5,378.9 L72.6,379.8 L72.8,380.7 L73.0,381.6 L73.2,382.4 L73.4,383.3 L73.6,384.2 L73.8,385.1 L74.0,386.0 L74.2,386.9 L74.4,387.8 L74.6,388.7 L74.8,389.6 L75.0,390.5 L75.3,391.4 L75.5,392.3 L75.7,393.2 L75.9,394.1 L76.1,395.0 L76.3,395.9 L76.6,396.8 L76.8,397.7 L77.0,398.6 L77.2,399.6 L77.5,400.5 L77.7,401.4 L77.9,402.3 L78.1,403.2 L78.4,404.1 L78.6,405.0 L78.8,405.9 L79.1,406.8 L79.3,407.7 L79.5,408.6 L79.8,409.5 L80.0,410.3 L80.3,411.2 L80.5,412.1 L80.8,413.0 L81.0,413.9 L81.3,414.7 L81.6,415.6 L81.9,416.5 L82.2,417.3 L82.5,418.2 L82.8,419.1 L83.1,419.9 L83.5,420.8 L83.8,421.6 L84.2,422.5 L84.6,423.3 L85.0,424.2 L85.4,425.0 L85.8,425.9 L86.3,426.7 L86.7,427.5 L87.2,428.3 L87.7,429.2 L88.2,430.0 L88.7,430.7 L89.3,431.5 L89.8,432.3 L90.4,433.0 L91.0,433.7 L91.6,434.4 L92.2,435.1 L92.8,435.8 L93.5,436.4 L94.2,437.0 L94.9,437.6 L95.6,438.1 L96.3,438.6 L97.1,439.1 L97.8,439.6 L98.6,440.0 L99.4,440.4 L100.2,440.8 L101.0,441.1 L101.9,441.4 L102.7,441.7 L103.6,442.0 L104.5,442.2 L105.3,442.4 L106.2,442.6 L107.1,442.8 L108.0,443.0 L109.0,443.1 L109.9,443.2 L110.8,443.3 L111.8,443.4 L112.7,443.5 L113.6,443.5 L114.6,443.6 L115.6,443.6 L116.5,443.6 L117.5,443.6 L118.4,443.6 L119.4,443.6 L120.3,443.6 L121.3,443.5 L122.3,443.5 L123.2,443.4 L124.2,443.4 L125.1,443.3 L126.0,443.2 L127.0,443.2 L127.9,443.1 L128.9,443.0 L129.8,442.9 L130.7,442.8 L131.6,442.7 L132.6,442.6 L133.5,442.6 L134.4,442.5 L135.3,442.4 L136.3,442.3 L137.2,442.2 L138.1,442.0 L139.0,441.9 L139.9,441.8 L140.8,441.7 L141.7,441.6 L142.6,441.5 L143.6,441.5 L144.5,441.4 L145.4,441.3 L146.3,441.2 L147.2,441.1 L148.1,441.0 L149.0,440.9 L149.9,440.9 L150.8,440.8 L151.7,440.7 L152.6,440.7 L153.5,440.6 L154.4,440.6 L155.3,440.5 L156.3,440.5 L157.2,440.5 L158.1,440.4 L159.0,440.4 L159.9,440.4 L160.8,440.4 L161.7,440.5 L162.7,440.5 L163.6,440.5 L164.5,440.5 L165.4,440.6 L166.4,440.6 L167.3,440.7 L168.2,440.8 L169.1,440.8 L170.1,440.9 L171.0,441.0 L171.9,441.0 L172.9,441.1 L173.8,441.2 L174.7,441.2 L175.7,441.3 L176.6,441.4 L177.5,441.4 L178.5,441.5 L179.4,441.5 L180.3,441.6 L181.3,441.6 L182.2,441.7 L183.1,441.7 L184.0,441.7 L185.0,441.7 L185.9,441.7 L186.8,441.7 L187.8,441.6 L188.7,441.6 L189.6,441.5 L190.5,441.5 L191.4,441.4 L192.4,441.3 L193.3,441.1 L194.2,441.0 L195.1,440.8 L196.0,440.7 L196.9,440.5 L197.8,440.2 L198.7,440.0 L199.6,439.7 L200.5,439.5 L201.4,439.2 L202.3,438.8 L203.2,438.5 L204.0,438.1 L204.9,437.7 L205.7,437.3 L206.5,436.9 L207.3,436.5 L208.1,436.0 L208.9,435.5 L209.7,435.0 L210.4,434.5 L211.2,433.9 L211.9,433.3 L212.6,432.7 L213.3,432.1 L213.9,431.5 L214.5,430.8 L215.1,430.1 L215.7,429.4 L216.3,428.7 L216.9,427.9 L217.4,427.2 L217.9,426.4 L218.4,425.7 L218.9,424.9 L219.4,424.1 L219.9,423.3 L220.3,422.5 L220.8,421.7 L221.2,420.9 L221.7,420.1 L222.1,419.3 L222.6,418.6 L223.0,417.8 L223.4,417.0 L223.9,416.3 L224.3,415.5 L224.8,414.7 L225.2,413.9 L225.6,413.0 L226.0,412.0 L226.4,411.0 L226.9,409.9 L227.3,408.8 L227.8,407.9 L228.4,407.2 L229.0,406.8 L229.6,406.7 L230.2,407.1 L230.7,407.7 L231.2,408.5 L231.7,409.3 L232.2,410.1 L232.7,410.9 L233.2,411.7 L233.6,412.6 L234.0,413.4 L234.5,414.2 L234.9,415.1 L235.2,416.0 L235.6,416.8 L236.0,417.7 L236.3,418.6 L236.6,419.4 L237.0,420.3 L237.3,421.2 L237.6,422.1 L237.9,423.0 L238.1,423.9 L238.4,424.8 L238.7,425.6 L238.9,426.5 L239.2,427.4 L239.5,428.3 L239.7,429.2 L240.0,430.1 L240.3,430.9 L240.5,431.8 L240.8,432.7 L241.1,433.6 L241.4,434.4 L241.8,435.3 L242.1,436.1 L242.5,437.0 L242.8,437.8 L243.2,438.6 L243.7,439.5 L244.1,440.3 L244.6,441.1 L245.1,441.9 L245.6,442.7 L246.2,443.4 L246.7,444.1 L247.3,444.8 L248.0,445.5 L248.6,446.1 L249.3,446.7 L250.0,447.3 L250.8,447.8 L251.5,448.3 L252.3,448.8 L253.2,449.2 L254.0,449.5 L254.9,449.8 L255.9,450.0 L256.8,450.2 L257.8,450.3" stroke="#5f7fa3" stroke-width="1.2" stroke-opacity="1.0"/><path d="M43.7,449.2 L44.0,448.2 L44.2,447.1 L44.5,446.1 L44.8,445.1 L45.1,444.1 L45.3,443.0 L45.6,442.0 L45.8,441.0 L46.1,439.9 L46.3,438.9 L46.6,437.9 L46.8,436.8 L47.0,435.8 L47.3,434.7 L47.5,433.7 L47.7,432.7 L47.9,431.6 L48.1,430.6 L48.3,429.5 L48.5,428.5 L48.7,427.5 L48.9,426.4 L49.1,425.4 L49.3,424.3 L49.5,423.3 L49.7,422.2 L49.9,421.2 L50.0,420.1 L50.2,419.1 L50.4,418.0 L50.6,417.0 L50.7,415.9 L50.9,414.9 L51.1,413.8 L51.2,412.8 L51.4,411.7 L51.6,410.7 L51.7,409.6 L51.9,408.6 L52.0,407.5 L52.2,406.5 L52.3,405.4 L52.5,404.4 L52.6,403.3 L52.8,402.3 L52.9,401.2 L53.1,400.2 L53.2,399.1 L53.4,398.1 L53.5,397.0 L53.7,396.0 L53.8,394.9 L54.0,393.9 L54.1,392.8 L54.3,391.8 L54.4,390.7 L54.6,389.7 L54.7,388.6 L54.9,387.6 L55.0,386.5 L55.2,385.5 L55.3,384.4 L55.5,383.4 L55.7,382.3 L55.8,381.3 L56.0,380.2 L56.1,379.2 L56.3,378.1 L56.4,377.1 L56.6,376.0 L56.8,375.0 L56.9,373.9 L57.1,372.9 L57.2,371.8 L57.4,370.8 L57.5,369.7 L57.7,368.7 L57.8,367.6 L58.0,366.6 L58.1,365.5 L58.2,364.5 L58.4,363.4 L58.5,362.3 L58.6,361.3 L58.7,360.2 L58.9,359.2 L59.0,358.1 L59.1,357.1 L59.2,356.0 L59.3,355.0 L59.4,353.9 L59.5,352.8 L59.5,351.8 L59.6,350.7 L59.7,349.7 L59.7,348.6 L59.8,347.5 L59.9,346.5 L59.9,345.4 L60.0,344.3 L60.0,343.3 L60.1,342.2 L60.1,341.1 L60.2,340.1 L60.2,339.0 L60.3,338.0 L60.4,336.9 L60.5,335.9 L60.6,334.8 L60.7,333.8 L60.8,332.7 L60.9,331.7 L61.1,330.6 L61.3,329.6 L61.4,328.5 L61.6,327.4 L61.9,326.2 L62.1,325.0 L62.3,323.7 L62.6,322.4 L62.9,321.4 L63.2,320.7 L63.6,320.6 L64.0,321.1 L64.5,322.0 L64.8,323.0 L65.2,324.0 L65.5,325.1 L65.8,326.1 L66.1,327.2 L66.3,328.3 L66.5,329.4 L66.7,330.5 L66.9,331.6 L67.0,332.7 L67.2,333.8 L67.4,334.9 L67.5,336.0 L67.6,337.1 L67.8,338.2 L67.9,339.3 L68.0,340.4 L68.1,341.5 L68.2,342.6 L68.3,343.6 L68.4,344.7 L68.5,345.8 L68.6,346.9 L68.7,347.9 L68.8,349.0 L68.8,350.1 L68.9,351.1 L69.0,352.2 L69.1,353.2 L69.2,354.3 L69.3,355.3 L69.4,356.4 L69.4,357.4 L69.5,358.5 L69.6,359.5 L69.7,360.6 L69.9,361.6 L70.0,362.7 L70.1,363.7 L70.2,364.8 L70.3,365.8 L70.5,366.8 L70.6,367.9 L70.8,368.9 L70.9,370.0 L71.1,371.0 L71.3,372.0 L71.4,373.1 L71.6,374.1 L71.8,375.1 L72.0,376.2 L72.2,377.2 L72.4,378.2 L72.6,379.3 L72.8,380.3 L73.0,381.3 L73.3,382.4 L73.5,383.4 L73.7,384.4 L73.9,385.5 L74.2,386.5 L74.4,387.5 L74.6,388.6 L74.9,389.6 L75.1,390.7 L75.3,391.7 L75.6,392.7 L75.8,393.8 L76.0,394.8 L76.3,395.9 L76.5,396.9 L76.8,398.0 L77.0,399.0 L77.3,400.1 L77.5,401.1 L77.8,402.2 L78.0,403.2 L78.3,404.3 L78.5,405.3 L78.8,406.3 L79.1,407.4 L79.4,408.4 L79.6,409.5 L79.9,410.5 L80.2,411.5 L80.5,412.5 L80.9,413.6 L81.2,414.6 L81.5,415.6 L81.9,416.6 L82.2,417.6 L82.6,418.6 L83.0,419.6 L83.4,420.6 L83.8,421.5 L84.2,422.5 L84.6,423.5 L85.1,424.4 L85.6,425.3 L86.1,426.3 L86.6,427.2 L87.1,428.1 L87.6,429.0 L88.2,429.9 L88.7,430.8 L89.3,431.7 L89.9,432.5 L90.6,433.4 L91.2,434.2 L91.9,435.0 L92.6,435.8 L93.3,436.6 L94.1,437.4 L94.8,438.1 L95.6,438.8 L96.4,439.5 L97.3,440.2 L98.1,440.8 L99.0,441.3 L99.9,441.8 L100.8,442.3 L101.8,442.7 L102.7,443.0 L103.7,443.3 L104.8,443.6 L105.8,443.8 L106.8,444.0 L107.9,444.1 L109.0,444.2 L110.0,444.3 L111.1,444.4 L112.2,444.4 L113.3,444.4 L114.4,444.4 L115.5,444.4 L116.7,444.4 L117.8,444.3 L118.9,444.3 L120.0,444.2 L121.1,444.2 L122.2,444.2 L123.3,444.1 L124.4,444.1 L125.4,444.1 L126.5,444.1 L127.6,444.1 L128.6,444.1 L129.7,444.1 L130.7,444.1 L131.8,444.1 L132.8,444.1 L133.8,444.1 L134.9,444.0 L135.9,444.0 L136.9,444.0 L138.0,443.9 L139.0,443.9 L140.0,443.8 L141.1,443.7 L142.1,443.7 L143.2,443.5 L144.2,443.4 L145.3,443.2 L146.3,443.1 L147.4,442.9 L148.4,442.7 L149.5,442.5 L150.6,442.3 L151.7,442.1 L152.7,441.9 L153.8,441.8 L154.9,441.8 L155.9,441.7 L157.0,441.7 L158.1,441.8 L159.1,441.8 L160.2,441.9 L161.3,442.0 L162.3,442.1 L163.4,442.2 L164.5,442.4 L165.5,442.5 L166.6,442.7 L167.6,442.8 L168.7,443.0 L169.7,443.1 L170.8,443.2 L171.8,443.4 L172.9,443.5 L173.9,443.6 L175.0,443.6 L176.0,443.7 L177.1,443.7 L178.1,443.7 L179.2,443.8 L180.2,443.8 L181.3,443.8 L182.3,443.8 L183.4,443.7 L184.4,443.7 L185.5,443.7 L186.6,443.7 L187.7,443.7 L188.8,443.6 L189.9,443.6 L191.0,443.5 L192.0,443.5 L193.1,443.4 L194.2,443.3 L195.3,443.2 L196.4,443.1 L197.5,443.0 L198.5,442.8 L199.6,442.7 L200.7,442.5 L201.7,442.3 L202.7,442.0 L203.8,441.8 L204.8,441.5 L205.8,441.2 L206.7,440.9 L207.7,440.5 L208.7,440.1 L209.6,439.7 L210.5,439.2 L211.4,438.7 L212.3,438.2 L213.1,437.6 L214.0,437.1 L214.8,436.4 L215.6,435.8 L216.4,435.1 L217.2,434.4 L217.9,433.7 L218.7,432.9 L219.4,432.1 L220.1,431.3 L220.8,430.4 L221.5,429.5 L222.2,428.6 L222.9,427.7 L223.5,426.8 L224.2,425.8 L224.8,424.8 L225.4,423.8 L226.1,422.8 L226.7,421.9 L227.4,421.0 L228.1,420.2 L228.8,419.6 L229.6,419.1 L230.4,418.9 L231.4,418.8 L232.3,419.1 L233.2,419.6 L233.9,420.5 L234.6,421.5 L235.2,422.6 L235.7,423.7 L236.2,424.7 L236.5,425.7 L236.9,426.7 L237.2,427.7 L237.5,428.7 L237.8,429.6 L238.1,430.6 L238.4,431.6 L238.8,432.6 L239.1,433.7 L239.4,434.7 L239.8,435.7 L240.2,436.7 L240.7,437.7 L241.1,438.7 L241.6,439.6 L242.2,440.5 L242.8,441.4 L243.4,442.3 L244.1,443.1 L244.8,443.9 L245.5,444.6 L246.3,445.4 L247.1,446.0 L247.9,446.7 L248.8,447.3 L249.6,447.8 L250.6,448.3 L251.5,448.8 L252.5,449.2 L253.5,449.5 L254.6,449.8 L255.6,450.1 L256.7,450.2 L257.8,450.4" stroke="#6b9f70" stroke-width="1.2" stroke-opacity="1.0"/><path d="M48.0,450.7 L49.1,449.9 L49.9,448.8 L50.5,447.7 L50.9,446.4 L51.1,445.0 L51.3,443.6 L51.3,442.2 L51.3,440.7 L51.4,439.2 L51.4,437.7 L51.4,436.2 L51.5,434.8 L51.6,433.4 L51.6,431.9 L51.7,430.5 L51.8,429.1 L51.9,427.7 L52.0,426.3 L52.2,424.9 L52.3,423.5 L52.4,422.1 L52.5,420.7 L52.5,419.3 L52.6,417.9 L52.7,416.4 L52.8,415.0 L52.9,413.6 L52.9,412.2 L53.0,410.8 L53.1,409.4 L53.1,408.0 L53.2,406.6 L53.3,405.1 L53.3,403.7 L53.4,402.3 L53.4,400.9 L53.5,399.5 L53.5,398.0 L53.5,396.6 L53.6,395.2 L53.6,393.8 L53.7,392.4 L53.7,390.9 L53.7,389.5 L53.8,388.1 L53.8,386.7 L53.8,385.3 L53.8,383.8 L53.9,382.4 L53.9,381.0 L53.9,379.6 L53.9,378.1 L54.0,376.7 L54.0,375.3 L54.0,373.9 L54.0,372.4 L54.0,371.0 L54.1,369.6 L54.1,368.2 L54.1,366.8 L54.1,365.3 L54.2,363.9 L54.2,362.5 L54.2,361.1 L54.2,359.7 L54.3,358.2 L54.3,356.8 L54.3,355.4 L54.3,354.0 L54.4,352.6 L54.4,351.2 L54.4,349.7 L54.4,348.3 L54.5,346.9 L54.5,345.5 L54.5,344.1 L54.6,342.7 L54.6,341.3 L54.6,339.8 L54.7,338.4 L54.7,337.0 L54.7,335.6 L54.8,334.2 L54.8,332.8 L54.8,331.4 L54.9,329.9 L54.9,328.5 L55.0,327.1 L55.0,325.7 L55.0,324.3 L55.1,322.9 L55.1,321.4 L55.2,320.0 L55.2,318.6 L55.3,317.2 L55.3,315.8 L55.4,314.4 L55.4,313.0 L55.5,311.5 L55.5,310.1 L55.6,308.7 L55.6,307.3 L55.7,305.9 L55.7,304.4 L55.8,303.0 L55.8,301.6 L55.9,300.2 L55.9,298.8 L56.0,297.3 L56.1,295.9 L56.1,294.5 L56.2,293.1 L56.2,291.7 L56.3,290.2 L56.4,288.8 L56.4,287.4 L56.5,285.9 L56.6,284.5 L56.6,283.1 L56.7,281.7 L56.8,280.2 L56.9,278.8 L56.9,277.4 L57.0,275.9 L57.1,274.5 L57.2,273.1 L57.2,271.6 L57.3,270.2 L57.4,268.7 L57.5,267.3 L57.6,265.9 L57.6,264.4 L57.7,263.0 L57.8,261.5 L57.9,260.2 L58.1,259.6 L58.2,260.3 L58.4,261.9 L58.6,264.1 L58.8,266.2 L58.9,268.0 L59.0,269.5 L59.1,270.9 L59.2,272.1 L59.3,273.3 L59.3,274.4 L59.4,275.7 L59.5,277.0 L59.6,278.4 L59.7,279.8 L59.8,281.3 L59.9,282.7 L60.1,284.2 L60.2,285.6 L60.3,286.9 L60.4,288.2 L60.6,289.5 L60.7,290.8 L60.9,292.2 L61.0,293.7 L61.2,295.5 L61.4,297.4 L61.7,299.2 L62.0,300.5 L62.4,300.8 L62.8,299.9 L63.2,298.4 L63.5,296.8 L63.7,295.2 L63.9,293.7 L64.2,292.2 L64.6,290.5 L65.2,288.9 L65.8,287.9 L66.4,287.8 L66.9,288.6 L67.3,289.9 L67.6,291.5 L68.0,293.2 L68.2,294.8 L68.5,296.3 L68.7,297.9 L68.9,299.3 L69.0,300.7 L69.2,302.2 L69.3,303.5 L69.5,304.9 L69.6,306.3 L69.7,307.7 L69.9,309.1 L70.0,310.5 L70.1,311.8 L70.2,313.2 L70.3,314.6 L70.5,316.0 L70.6,317.4 L70.7,318.8 L70.8,320.2 L70.9,321.6 L71.0,323.0 L71.1,324.4 L71.2,325.9 L71.3,327.3 L71.4,328.7 L71.5,330.1 L71.6,331.5 L71.7,332.9 L71.8,334.3 L71.9,335.8 L72.0,337.2 L72.1,338.6 L72.2,340.0 L72.3,341.4 L72.4,342.9 L72.5,344.3 L72.6,345.7 L72.8,347.1 L72.9,348.5 L73.0,350.0 L73.1,351.4 L73.2,352.8 L73.3,354.2 L73.4,355.7 L73.5,357.1 L73.6,358.5 L73.7,359.9 L73.9,361.3 L74.0,362.8 L74.1,364.2 L74.2,365.6 L74.4,367.0 L74.5,368.4 L74.6,369.8 L74.8,371.3 L74.9,372.7 L75.1,374.1 L75.2,375.5 L75.4,376.9 L75.5,378.3 L75.7,379.7 L75.9,381.1 L76.0,382.5 L76.2,384.0 L76.4,385.4 L76.6,386.8 L76.8,388.2 L77.0,389.6 L77.2,391.0 L77.5,392.4 L77.7,393.7 L77.9,395.1 L78.2,396.5 L78.4,397.9 L78.7,399.3 L78.9,400.7 L79.2,402.1 L79.5,403.4 L79.8,404.8 L80.1,406.2 L80.4,407.6 L80.7,408.9 L81.1,410.3 L81.4,411.7 L81.8,413.0 L82.2,414.4 L82.6,415.8 L83.0,417.1 L83.4,418.5 L83.9,419.8 L84.4,421.2 L84.8,422.5 L85.4,423.9 L85.9,425.2 L86.5,426.6 L87.1,427.9 L87.7,429.2 L88.4,430.5 L89.1,431.8 L89.8,433.0 L90.6,434.2 L91.5,435.4 L92.4,436.5 L93.3,437.5 L94.3,438.4 L95.4,439.3 L96.5,440.1 L97.7,440.8 L98.9,441.5 L100.1,442.1 L101.4,442.6 L102.8,443.1 L104.1,443.5 L105.5,443.9 L106.9,444.2 L108.3,444.5 L109.7,444.7 L111.2,445.0 L112.6,445.1 L114.0,445.3 L115.4,445.4 L116.8,445.5 L118.3,445.6 L119.7,445.6 L121.1,445.7 L122.5,445.7 L123.9,445.7 L125.3,445.6 L126.7,445.6 L128.2,445.5 L129.6,445.4 L131.0,445.3 L132.4,445.2 L133.8,445.1 L135.2,444.9 L136.6,444.8 L138.1,444.6 L139.5,444.4 L140.9,444.3 L142.3,444.1 L143.7,443.9 L145.1,443.8 L146.5,443.6 L148.0,443.5 L149.4,443.4 L150.8,443.3 L152.2,443.3 L153.6,443.2 L155.0,443.2 L156.4,443.2 L157.8,443.3 L159.2,443.3 L160.6,443.4 L162.0,443.5 L163.4,443.6 L164.8,443.8 L166.2,443.9 L167.6,444.1 L169.0,444.2 L170.4,444.4 L171.8,444.5 L173.3,444.7 L174.7,444.9 L176.1,445.0 L177.5,445.2 L179.0,445.3 L180.4,445.4 L181.9,445.6 L183.3,445.7 L184.8,445.8 L186.2,445.9 L187.6,445.9 L189.1,446.0 L190.5,446.0 L192.0,446.0 L193.4,446.0 L194.8,445.9 L196.2,445.9 L197.6,445.8 L199.1,445.7 L200.5,445.5 L201.9,445.3 L203.2,445.1 L204.6,444.8 L206.0,444.5 L207.3,444.2 L208.7,443.8 L210.0,443.4 L211.4,443.0 L212.7,442.5 L214.0,441.9 L215.2,441.3 L216.5,440.7 L217.7,440.0 L218.9,439.2 L220.1,438.4 L221.2,437.5 L222.2,436.5 L223.2,435.5 L224.1,434.5 L225.0,433.3 L225.7,432.1 L226.4,430.8 L227.0,429.4 L227.5,427.9 L228.0,426.5 L228.7,425.2 L229.6,423.9 L230.6,422.9 L231.8,422.4 L232.8,422.6 L233.6,423.5 L234.3,424.8 L234.8,426.5 L235.3,428.3 L235.6,430.0 L235.9,431.5 L236.2,432.8 L236.4,434.1 L236.7,435.3 L237.1,436.5 L237.6,437.8 L238.1,439.2 L238.7,440.4 L239.4,441.7 L240.2,442.9 L241.1,444.0 L242.1,445.0 L243.2,446.0 L244.3,446.8 L245.5,447.6 L246.8,448.3 L248.1,448.9 L249.4,449.4 L250.8,449.8 L252.2,450.2 L253.6,450.4 L255.0,450.6 L256.4,450.6 L257.8,450.6" stroke="#8f6796" stroke-width="1.2" stroke-opacity="1.0"/></g><rect x="115.4" y="244.5" width="70.19999999999999" height="56.10000000000002" fill="#fff" stroke="#555" stroke-width="0.8"/><text x="150.50" y="253.80" font-size="7.9" fill="#222" text-anchor="middle">Expression quartile</text><line x1="136.2" x2="151.0" y1="263.50" y2="263.50" stroke="#b9505f" stroke-width="1.1"/><text x="157.7" y="266.20" font-size="7.9" fill="#222">Q1</text><line x1="136.2" x2="151.0" y1="272.80" y2="272.80" stroke="#5f7fa3" stroke-width="1.1"/><text x="157.7" y="275.50" font-size="7.9" fill="#222">Q2</text><line x1="136.2" x2="151.0" y1="282.10" y2="282.10" stroke="#6b9f70" stroke-width="1.1"/><text x="157.7" y="284.80" font-size="7.9" fill="#222">Q3</text><line x1="136.2" x2="151.0" y1="291.40" y2="291.40" stroke="#8f6796" stroke-width="1.1"/><text x="157.7" y="294.10" font-size="7.9" fill="#222">Q4</text><rect x="43.65" y="244.5" width="214.15" height="214.10" fill="none" stroke="#383838" stroke-width="1.3"/><line x1="40.35" x2="43.65" y1="450.67" y2="450.67" stroke="#383838" stroke-width="1.1"/><line x1="257.8" x2="261.10" y1="450.67" y2="450.67" stroke="#383838" stroke-width="1.1"/><text transform="translate(35.75,450.67) rotate(-90)" x="0" y="0" font-size="8.2" fill="#333" text-anchor="middle">0</text><line x1="41.85" x2="43.65" y1="425.89" y2="425.89" stroke="#383838" stroke-width="1.1"/><line x1="257.8" x2="259.60" y1="425.89" y2="425.89" stroke="#383838" stroke-width="1.1"/><line x1="40.35" x2="43.65" y1="401.11" y2="401.11" stroke="#383838" stroke-width="1.1"/><line x1="257.8" x2="261.10" y1="401.11" y2="401.11" stroke="#383838" stroke-width="1.1"/><text transform="translate(35.75,401.11) rotate(-90)" x="0" y="0" font-size="8.2" fill="#333" text-anchor="middle">2</text><line x1="41.85" x2="43.65" y1="376.33" y2="376.33" stroke="#383838" stroke-width="1.1"/><line x1="257.8" x2="259.60" y1="376.33" y2="376.33" stroke="#383838" stroke-width="1.1"/><line x1="40.35" x2="43.65" y1="351.55" y2="351.55" stroke="#383838" stroke-width="1.1"/><line x1="257.8" x2="261.10" y1="351.55" y2="351.55" stroke="#383838" stroke-width="1.1"/><text transform="translate(35.75,351.55) rotate(-90)" x="0" y="0" font-size="8.2" fill="#333" text-anchor="middle">4</text><line x1="41.85" x2="43.65" y1="326.77" y2="326.77" stroke="#383838" stroke-width="1.1"/><line x1="257.8" x2="259.60" y1="326.77" y2="326.77" stroke="#383838" stroke-width="1.1"/><line x1="40.35" x2="43.65" y1="301.99" y2="301.99" stroke="#383838" stroke-width="1.1"/><line x1="257.8" x2="261.10" y1="301.99" y2="301.99" stroke="#383838" stroke-width="1.1"/><text transform="translate(35.75,301.99) rotate(-90)" x="0" y="0" font-size="8.2" fill="#333" text-anchor="middle">6</text><line x1="41.85" x2="43.65" y1="277.21" y2="277.21" stroke="#383838" stroke-width="1.1"/><line x1="257.8" x2="259.60" y1="277.21" y2="277.21" stroke="#383838" stroke-width="1.1"/><line x1="40.35" x2="43.65" y1="252.43" y2="252.43" stroke="#383838" stroke-width="1.1"/><line x1="257.8" x2="261.10" y1="252.43" y2="252.43" stroke="#383838" stroke-width="1.1"/><text transform="translate(35.75,252.43) rotate(-90)" x="0" y="0" font-size="8.2" fill="#333" text-anchor="middle">8</text><line x1="51.58" x2="51.58" y1="458.6" y2="461.60" stroke="#383838" stroke-width="1.1"/><text x="51.58" y="470.10" font-size="8.2" fill="#333" text-anchor="middle">0.0</text><line x1="91.24" x2="91.24" y1="458.6" y2="461.60" stroke="#383838" stroke-width="1.1"/><text x="91.24" y="470.10" font-size="8.2" fill="#333" text-anchor="middle">0.2</text><line x1="130.90" x2="130.90" y1="458.6" y2="461.60" stroke="#383838" stroke-width="1.1"/><text x="130.90" y="470.10" font-size="8.2" fill="#333" text-anchor="middle">0.4</text><line x1="170.55" x2="170.55" y1="458.6" y2="461.60" stroke="#383838" stroke-width="1.1"/><text x="170.55" y="470.10" font-size="8.2" fill="#333" text-anchor="middle">0.6</text><line x1="210.21" x2="210.21" y1="458.6" y2="461.60" stroke="#383838" stroke-width="1.1"/><text x="210.21" y="470.10" font-size="8.2" fill="#333" text-anchor="middle">0.8</text><line x1="249.87" x2="249.87" y1="458.6" y2="461.60" stroke="#383838" stroke-width="1.1"/><text x="249.87" y="470.10" font-size="8.2" fill="#333" text-anchor="middle">1.0</text><line x1="150.72" x2="150.72" y1="458.6" y2="460.40" stroke="#383838" stroke-width="1.1"/><text x="5.0" y="252.40" font-size="11.6" font-weight="bold" fill="#000">C</text><text transform="translate(27.3,351.55) rotate(-90) scale(1.035,0.95)" font-size="9.3" fill="#333" text-anchor="middle">Density</text><clipPath id="clD"><rect x="289.4" y="244.5" width="214.0" height="214.10000000000002"/></clipPath><g clip-path="url(#clD)" fill="none" stroke-linejoin="round"><path d="M289.5,450.9 L289.9,450.1 L290.2,449.3 L290.6,448.5 L291.0,447.7 L291.4,446.9 L291.7,446.1 L292.1,445.3 L292.5,444.5 L292.8,443.7 L293.2,442.9 L293.5,442.1 L293.9,441.3 L294.3,440.5 L294.6,439.7 L295.0,438.9 L295.3,438.1 L295.7,437.3 L296.0,436.5 L296.4,435.7 L296.7,434.9 L297.1,434.1 L297.4,433.3 L297.8,432.5 L298.1,431.7 L298.5,430.9 L298.8,430.1 L299.2,429.3 L299.5,428.5 L299.8,427.7 L300.2,426.8 L300.5,426.0 L300.9,425.2 L301.2,424.4 L301.5,423.6 L301.9,422.8 L302.2,421.9 L302.5,421.1 L302.9,420.3 L303.2,419.5 L303.5,418.7 L303.8,417.9 L304.2,417.1 L304.5,416.3 L304.8,415.5 L305.1,414.7 L305.4,413.9 L305.7,413.1 L306.0,412.4 L306.3,411.6 L306.6,410.8 L307.0,410.0 L307.3,409.2 L307.7,408.4 L308.2,407.6 L308.6,406.8 L309.2,405.9 L309.7,405.1 L310.3,404.3 L310.9,403.6 L311.6,402.9 L312.2,402.3 L312.9,401.9 L313.6,401.6 L314.3,401.4 L315.0,401.4 L315.7,401.5 L316.4,401.8 L317.1,402.3 L317.8,402.8 L318.4,403.4 L319.1,404.1 L319.7,404.8 L320.3,405.6 L320.9,406.4 L321.4,407.3 L321.9,408.1 L322.4,408.9 L322.8,409.7 L323.2,410.5 L323.6,411.4 L324.0,412.2 L324.3,413.0 L324.6,413.8 L324.9,414.6 L325.2,415.4 L325.5,416.2 L325.8,417.0 L326.0,417.8 L326.3,418.5 L326.6,419.3 L326.9,420.1 L327.2,420.9 L327.4,421.7 L327.8,422.5 L328.1,423.3 L328.4,424.1 L328.8,424.9 L329.2,425.7 L329.6,426.5 L330.0,427.3 L330.5,428.1 L331.0,428.8 L331.5,429.6 L332.0,430.3 L332.6,431.1 L333.1,431.8 L333.7,432.5 L334.4,433.1 L335.0,433.8 L335.6,434.4 L336.3,434.9 L337.0,435.4 L337.7,435.9 L338.4,436.4 L339.2,436.8 L339.9,437.2 L340.7,437.6 L341.5,437.9 L342.3,438.3 L343.1,438.6 L343.9,438.8 L344.7,439.1 L345.5,439.3 L346.4,439.6 L347.2,439.8 L348.1,440.0 L348.9,440.2 L349.8,440.4 L350.7,440.5 L351.5,440.7 L352.4,440.8 L353.2,441.0 L354.1,441.1 L355.0,441.3 L355.9,441.4 L356.7,441.5 L357.6,441.6 L358.5,441.7 L359.4,441.8 L360.3,441.9 L361.1,442.0 L362.0,442.1 L362.9,442.1 L363.8,442.2 L364.7,442.2 L365.5,442.3 L366.4,442.3 L367.3,442.3 L368.2,442.3 L369.0,442.3 L369.9,442.3 L370.8,442.3 L371.7,442.3 L372.5,442.3 L373.4,442.3 L374.3,442.2 L375.1,442.2 L376.0,442.1 L376.9,442.0 L377.7,442.0 L378.6,441.9 L379.4,441.8 L380.3,441.7 L381.2,441.6 L382.0,441.5 L382.9,441.3 L383.8,441.2 L384.6,441.1 L385.5,440.9 L386.4,440.8 L387.2,440.6 L388.1,440.4 L389.0,440.3 L389.8,440.1 L390.7,439.9 L391.6,439.7 L392.5,439.5 L393.3,439.4 L394.2,439.2 L395.1,439.0 L395.9,438.8 L396.8,438.7 L397.7,438.5 L398.5,438.3 L399.4,438.2 L400.3,438.1 L401.1,437.9 L402.0,437.8 L402.8,437.7 L403.7,437.6 L404.5,437.5 L405.4,437.5 L406.2,437.4 L407.1,437.4 L407.9,437.4 L408.8,437.4 L409.6,437.4 L410.4,437.4 L411.3,437.4 L412.1,437.4 L413.0,437.5 L413.8,437.5 L414.7,437.5 L415.6,437.6 L416.4,437.6 L417.3,437.7 L418.2,437.7 L419.1,437.7 L420.0,437.8 L420.9,437.8 L421.8,437.8 L422.7,437.9 L423.6,437.9 L424.6,437.9 L425.5,437.9 L426.4,437.9 L427.3,437.9 L428.2,437.9 L429.2,437.9 L430.1,437.8 L431.0,437.8 L431.9,437.7 L432.8,437.6 L433.7,437.6 L434.6,437.5 L435.5,437.3 L436.4,437.2 L437.3,437.1 L438.1,436.9 L439.0,436.7 L439.8,436.5 L440.7,436.3 L441.5,436.1 L442.3,435.8 L443.1,435.5 L443.9,435.2 L444.7,434.9 L445.5,434.5 L446.3,434.1 L447.0,433.7 L447.7,433.3 L448.4,432.9 L449.1,432.4 L449.8,431.9 L450.5,431.4 L451.1,430.8 L451.8,430.3 L452.4,429.7 L453.0,429.1 L453.6,428.5 L454.2,427.8 L454.7,427.2 L455.3,426.5 L455.8,425.8 L456.3,425.1 L456.8,424.4 L457.3,423.7 L457.7,422.9 L458.2,422.2 L458.6,421.4 L459.0,420.7 L459.4,419.9 L459.8,419.1 L460.2,418.3 L460.6,417.5 L460.9,416.6 L461.2,415.8 L461.5,415.0 L461.8,414.2 L462.1,413.3 L462.3,412.5 L462.6,411.6 L462.8,410.8 L463.0,409.9 L463.2,409.1 L463.4,408.2 L463.6,407.3 L463.8,406.5 L464.0,405.6 L464.1,404.7 L464.3,403.9 L464.5,403.0 L464.6,402.1 L464.8,401.2 L464.9,400.4 L465.1,399.5 L465.2,398.6 L465.4,397.8 L465.6,396.9 L465.7,396.0 L465.9,395.2 L466.0,394.3 L466.2,393.5 L466.4,392.6 L466.6,391.8 L466.8,391.0 L467.0,390.1 L467.2,389.3 L467.5,388.5 L467.7,387.7 L468.0,386.8 L468.3,386.0 L468.6,385.3 L468.9,384.5 L469.2,383.7 L469.5,382.9 L469.9,382.1 L470.2,381.3 L470.6,380.5 L471.0,379.7 L471.4,378.8 L471.8,378.0 L472.2,377.1 L472.6,376.2 L473.0,375.2 L473.4,374.3 L473.8,373.3 L474.3,372.3 L474.7,371.6 L475.2,371.1 L475.7,371.0 L476.2,371.2 L476.7,371.6 L477.1,372.2 L477.6,372.9 L478.0,373.8 L478.4,374.7 L478.7,375.6 L479.0,376.5 L479.3,377.4 L479.5,378.3 L479.6,379.2 L479.8,380.1 L479.9,381.0 L480.0,381.8 L480.1,382.7 L480.1,383.6 L480.2,384.4 L480.3,385.3 L480.4,386.2 L480.6,387.1 L480.7,387.9 L480.8,388.8 L481.0,389.7 L481.1,390.6 L481.3,391.4 L481.4,392.3 L481.6,393.2 L481.8,394.1 L481.9,394.9 L482.1,395.8 L482.3,396.6 L482.5,397.5 L482.7,398.3 L482.9,399.2 L483.1,400.0 L483.3,400.9 L483.5,401.7 L483.7,402.5 L483.9,403.4 L484.1,404.2 L484.4,405.0 L484.6,405.8 L484.8,406.7 L485.0,407.5 L485.2,408.4 L485.3,409.2 L485.5,410.0 L485.7,410.9 L485.9,411.8 L486.1,412.6 L486.2,413.5 L486.4,414.4 L486.6,415.2 L486.7,416.1 L486.9,417.0 L487.0,417.9 L487.2,418.7 L487.3,419.6 L487.5,420.5 L487.7,421.4 L487.8,422.3 L488.0,423.2 L488.2,424.0 L488.4,424.9 L488.6,425.8 L488.8,426.7 L489.0,427.5 L489.2,428.4 L489.4,429.2 L489.6,430.1 L489.9,430.9 L490.1,431.8 L490.4,432.6 L490.7,433.4 L491.0,434.2 L491.3,435.1 L491.6,435.8 L491.9,436.6 L492.3,437.4 L492.7,438.2 L493.1,438.9 L493.5,439.7 L493.9,440.4 L494.4,441.1 L494.9,441.8 L495.4,442.5 L495.9,443.1 L496.4,443.8 L497.0,444.4 L497.6,445.0 L498.2,445.6 L498.9,446.2 L499.6,446.8 L500.3,447.3 L501.0,447.9 L501.8,448.4 L502.6,448.8 L503.4,449.3" stroke="#b9505f" stroke-width="1.2" stroke-opacity="1.0"/><path d="M289.3,450.6 L289.7,449.8 L290.0,449.0 L290.4,448.1 L290.8,447.3 L291.1,446.5 L291.5,445.6 L291.8,444.8 L292.2,444.0 L292.5,443.1 L292.9,442.3 L293.2,441.4 L293.5,440.6 L293.8,439.7 L294.2,438.8 L294.5,438.0 L294.8,437.1 L295.1,436.2 L295.4,435.3 L295.7,434.5 L296.0,433.6 L296.3,432.7 L296.6,431.8 L296.9,430.9 L297.2,430.0 L297.4,429.2 L297.7,428.3 L298.0,427.4 L298.2,426.5 L298.5,425.6 L298.8,424.7 L299.0,423.8 L299.3,422.9 L299.5,422.0 L299.7,421.1 L300.0,420.2 L300.2,419.3 L300.4,418.5 L300.7,417.6 L300.9,416.7 L301.1,415.8 L301.3,414.9 L301.5,414.0 L301.7,413.1 L301.9,412.3 L302.1,411.4 L302.3,410.5 L302.5,409.6 L302.7,408.7 L302.9,407.9 L303.1,407.0 L303.3,406.1 L303.5,405.3 L303.6,404.4 L303.8,403.5 L304.0,402.6 L304.2,401.8 L304.4,400.9 L304.6,400.0 L304.8,399.1 L305.0,398.2 L305.3,397.3 L305.5,396.4 L305.7,395.5 L306.0,394.6 L306.2,393.7 L306.5,392.7 L306.8,391.8 L307.1,390.8 L307.4,389.9 L307.7,388.9 L308.1,387.9 L308.4,386.9 L308.8,385.9 L309.2,385.0 L309.6,384.2 L310.1,383.5 L310.6,382.9 L311.2,382.5 L311.8,382.3 L312.5,382.4 L313.2,382.6 L313.9,383.0 L314.5,383.6 L315.0,384.3 L315.5,385.2 L316.0,386.1 L316.4,387.1 L316.7,388.2 L317.1,389.2 L317.4,390.3 L317.7,391.4 L317.9,392.4 L318.2,393.4 L318.5,394.3 L318.7,395.3 L319.0,396.2 L319.2,397.1 L319.4,398.0 L319.7,398.9 L319.9,399.7 L320.1,400.6 L320.3,401.4 L320.6,402.2 L320.8,403.1 L321.1,403.9 L321.3,404.7 L321.6,405.5 L321.9,406.3 L322.1,407.1 L322.4,407.9 L322.8,408.7 L323.1,409.5 L323.5,410.4 L323.8,411.2 L324.2,412.0 L324.6,412.9 L325.0,413.7 L325.4,414.5 L325.9,415.4 L326.3,416.3 L326.7,417.1 L327.1,418.0 L327.5,418.8 L327.9,419.7 L328.3,420.6 L328.7,421.4 L329.0,422.3 L329.4,423.1 L329.7,424.0 L330.0,424.8 L330.4,425.7 L330.7,426.5 L331.0,427.4 L331.4,428.2 L331.8,429.0 L332.3,429.8 L332.7,430.6 L333.2,431.3 L333.8,432.1 L334.3,432.8 L334.9,433.5 L335.5,434.2 L336.1,434.9 L336.8,435.5 L337.5,436.1 L338.2,436.7 L338.9,437.2 L339.7,437.8 L340.5,438.2 L341.3,438.7 L342.1,439.1 L342.9,439.5 L343.8,439.8 L344.6,440.1 L345.5,440.4 L346.4,440.7 L347.3,440.9 L348.2,441.1 L349.1,441.3 L350.1,441.4 L351.0,441.6 L351.9,441.8 L352.8,441.9 L353.7,442.1 L354.7,442.2 L355.6,442.3 L356.5,442.4 L357.4,442.5 L358.3,442.7 L359.2,442.8 L360.1,442.8 L361.0,442.9 L362.0,443.0 L362.9,443.1 L363.8,443.2 L364.7,443.2 L365.6,443.3 L366.5,443.3 L367.4,443.4 L368.3,443.4 L369.2,443.4 L370.2,443.5 L371.1,443.5 L372.0,443.5 L372.9,443.5 L373.8,443.6 L374.7,443.6 L375.6,443.6 L376.6,443.6 L377.5,443.6 L378.4,443.5 L379.3,443.5 L380.2,443.5 L381.2,443.5 L382.1,443.5 L383.0,443.4 L383.9,443.4 L384.9,443.4 L385.8,443.3 L386.7,443.3 L387.6,443.2 L388.6,443.2 L389.5,443.1 L390.4,443.0 L391.3,442.9 L392.3,442.8 L393.2,442.6 L394.1,442.5 L395.0,442.3 L395.9,442.0 L396.7,441.8 L397.6,441.5 L398.5,441.2 L399.3,440.8 L400.2,440.5 L401.1,440.2 L401.9,439.9 L402.8,439.7 L403.7,439.5 L404.6,439.3 L405.5,439.1 L406.4,439.1 L407.3,439.0 L408.2,439.0 L409.2,439.1 L410.1,439.1 L411.0,439.2 L412.0,439.3 L412.9,439.4 L413.9,439.5 L414.8,439.6 L415.7,439.7 L416.6,439.8 L417.5,439.8 L418.4,439.9 L419.3,439.9 L420.2,439.9 L421.1,439.8 L422.0,439.8 L422.8,439.8 L423.7,439.7 L424.6,439.7 L425.5,439.6 L426.4,439.5 L427.3,439.5 L428.2,439.4 L429.1,439.4 L430.1,439.3 L431.0,439.3 L431.9,439.2 L432.9,439.2 L433.8,439.2 L434.8,439.1 L435.8,439.1 L436.7,439.0 L437.7,438.9 L438.6,438.8 L439.6,438.7 L440.5,438.6 L441.5,438.5 L442.4,438.4 L443.3,438.2 L444.2,438.0 L445.1,437.8 L446.0,437.6 L446.9,437.3 L447.7,437.0 L448.6,436.7 L449.4,436.4 L450.2,436.0 L451.0,435.6 L451.7,435.1 L452.5,434.7 L453.2,434.2 L453.9,433.6 L454.6,433.0 L455.2,432.4 L455.9,431.8 L456.5,431.1 L457.1,430.5 L457.6,429.7 L458.2,429.0 L458.7,428.3 L459.2,427.5 L459.7,426.7 L460.2,425.9 L460.7,425.1 L461.1,424.3 L461.6,423.4 L462.0,422.6 L462.4,421.7 L462.7,420.8 L463.1,419.9 L463.4,419.0 L463.8,418.2 L464.1,417.3 L464.4,416.4 L464.7,415.5 L464.9,414.6 L465.2,413.7 L465.4,412.8 L465.7,411.9 L465.9,411.0 L466.1,410.2 L466.3,409.3 L466.5,408.4 L466.6,407.5 L466.8,406.7 L467.0,405.8 L467.2,404.9 L467.3,404.0 L467.5,403.2 L467.7,402.3 L467.9,401.4 L468.0,400.5 L468.2,399.6 L468.4,398.8 L468.6,397.9 L468.8,397.0 L469.0,396.1 L469.3,395.2 L469.5,394.3 L469.7,393.4 L470.0,392.5 L470.3,391.5 L470.6,390.6 L470.9,389.7 L471.2,388.8 L471.6,387.8 L472.0,386.9 L472.4,386.0 L472.9,385.1 L473.4,384.2 L474.0,383.4 L474.6,382.7 L475.3,382.2 L475.9,382.0 L476.6,382.0 L477.2,382.2 L477.8,382.7 L478.4,383.3 L478.9,384.1 L479.3,385.0 L479.6,386.0 L479.9,387.0 L480.1,388.1 L480.3,389.2 L480.5,390.2 L480.7,391.3 L480.9,392.2 L481.0,393.2 L481.2,394.1 L481.3,395.0 L481.5,395.9 L481.7,396.7 L481.9,397.6 L482.1,398.4 L482.3,399.3 L482.5,400.1 L482.7,401.0 L483.0,401.9 L483.2,402.7 L483.4,403.6 L483.7,404.5 L483.9,405.3 L484.1,406.2 L484.4,407.1 L484.6,408.0 L484.8,408.8 L485.0,409.7 L485.3,410.6 L485.5,411.6 L485.7,412.5 L485.8,413.4 L486.0,414.3 L486.2,415.2 L486.4,416.1 L486.6,417.1 L486.7,418.0 L486.9,418.9 L487.1,419.9 L487.3,420.8 L487.5,421.7 L487.7,422.6 L487.8,423.6 L488.0,424.5 L488.2,425.4 L488.5,426.3 L488.7,427.2 L488.9,428.1 L489.1,429.0 L489.4,429.9 L489.7,430.8 L489.9,431.7 L490.2,432.5 L490.5,433.4 L490.8,434.2 L491.2,435.1 L491.5,435.9 L491.9,436.7 L492.3,437.5 L492.7,438.3 L493.1,439.1 L493.6,439.9 L494.0,440.6 L494.5,441.3 L495.0,442.1 L495.6,442.8 L496.1,443.5 L496.7,444.1 L497.4,444.8 L498.0,445.4 L498.7,446.0 L499.4,446.6 L500.1,447.2 L500.9,447.8 L501.7,448.3 L502.6,448.8 L503.4,449.3" stroke="#5f7fa3" stroke-width="1.2" stroke-opacity="1.0"/><path d="M289.1,450.6 L289.6,449.7 L290.0,448.8 L290.4,447.9 L290.8,447.0 L291.2,446.1 L291.6,445.2 L292.0,444.2 L292.3,443.3 L292.7,442.4 L293.0,441.5 L293.3,440.5 L293.7,439.6 L294.0,438.7 L294.3,437.7 L294.5,436.8 L294.8,435.8 L295.1,434.9 L295.3,433.9 L295.6,433.0 L295.8,432.0 L296.1,431.0 L296.3,430.1 L296.5,429.1 L296.7,428.2 L296.9,427.2 L297.1,426.2 L297.3,425.3 L297.5,424.3 L297.7,423.3 L297.8,422.3 L298.0,421.4 L298.2,420.4 L298.3,419.4 L298.5,418.4 L298.6,417.5 L298.8,416.5 L298.9,415.5 L299.0,414.5 L299.2,413.5 L299.3,412.6 L299.4,411.6 L299.5,410.6 L299.7,409.6 L299.8,408.6 L299.9,407.6 L300.0,406.7 L300.1,405.7 L300.2,404.7 L300.4,403.7 L300.5,402.7 L300.6,401.7 L300.7,400.8 L300.8,399.8 L300.9,398.8 L301.0,397.8 L301.1,396.8 L301.2,395.9 L301.4,394.9 L301.5,393.9 L301.6,392.9 L301.7,392.0 L301.9,391.0 L302.0,390.0 L302.2,389.0 L302.3,388.1 L302.5,387.1 L302.7,386.1 L302.8,385.1 L303.0,384.2 L303.2,383.2 L303.4,382.2 L303.7,381.3 L303.9,380.3 L304.1,379.3 L304.4,378.4 L304.7,377.4 L305.0,376.4 L305.3,375.5 L305.6,374.5 L305.9,373.6 L306.3,372.6 L306.8,371.7 L307.3,370.8 L308.0,370.0 L308.7,369.2 L309.5,368.8 L310.3,368.7 L311.0,369.1 L311.7,369.7 L312.4,370.5 L313.0,371.3 L313.6,372.2 L314.1,373.0 L314.6,373.9 L315.0,374.8 L315.4,375.7 L315.8,376.7 L316.2,377.6 L316.5,378.5 L316.8,379.5 L317.0,380.5 L317.3,381.4 L317.5,382.4 L317.7,383.4 L317.9,384.4 L318.1,385.4 L318.3,386.3 L318.5,387.3 L318.7,388.3 L318.9,389.3 L319.1,390.3 L319.4,391.2 L319.6,392.2 L319.8,393.2 L320.1,394.1 L320.3,395.1 L320.6,396.0 L320.9,396.9 L321.2,397.9 L321.5,398.8 L321.8,399.8 L322.1,400.7 L322.4,401.6 L322.7,402.6 L323.0,403.5 L323.3,404.4 L323.6,405.3 L324.0,406.3 L324.3,407.2 L324.6,408.1 L325.0,409.0 L325.3,410.0 L325.6,410.9 L325.9,411.8 L326.3,412.8 L326.6,413.7 L326.9,414.7 L327.2,415.6 L327.5,416.6 L327.8,417.5 L328.1,418.5 L328.4,419.4 L328.7,420.4 L329.0,421.3 L329.4,422.3 L329.7,423.2 L330.0,424.2 L330.3,425.1 L330.7,426.1 L331.0,427.0 L331.4,427.9 L331.8,428.8 L332.3,429.6 L332.8,430.5 L333.2,431.3 L333.8,432.2 L334.3,432.9 L334.9,433.7 L335.6,434.5 L336.3,435.2 L337.0,435.8 L337.7,436.5 L338.5,437.1 L339.3,437.7 L340.2,438.2 L341.0,438.8 L341.9,439.2 L342.8,439.7 L343.7,440.1 L344.6,440.4 L345.5,440.8 L346.5,441.1 L347.4,441.3 L348.4,441.6 L349.3,441.8 L350.3,442.0 L351.2,442.1 L352.2,442.3 L353.2,442.4 L354.2,442.6 L355.2,442.7 L356.2,442.8 L357.2,442.9 L358.2,443.0 L359.2,443.1 L360.2,443.2 L361.2,443.3 L362.2,443.5 L363.1,443.6 L364.1,443.7 L365.1,443.8 L366.1,444.0 L367.1,444.1 L368.1,444.2 L369.1,444.3 L370.1,444.4 L371.1,444.5 L372.1,444.5 L373.0,444.6 L374.0,444.6 L375.0,444.6 L376.0,444.6 L377.0,444.5 L377.9,444.5 L378.9,444.4 L379.9,444.3 L380.9,444.2 L381.9,444.1 L382.8,443.9 L383.8,443.8 L384.8,443.6 L385.8,443.5 L386.7,443.3 L387.7,443.1 L388.7,443.0 L389.7,442.8 L390.6,442.6 L391.6,442.4 L392.6,442.3 L393.6,442.1 L394.5,441.9 L395.5,441.8 L396.5,441.6 L397.5,441.5 L398.5,441.3 L399.4,441.2 L400.4,441.1 L401.4,441.0 L402.4,440.9 L403.4,440.8 L404.4,440.7 L405.3,440.6 L406.3,440.5 L407.3,440.5 L408.3,440.4 L409.3,440.4 L410.3,440.3 L411.2,440.3 L412.2,440.3 L413.2,440.3 L414.2,440.3 L415.2,440.3 L416.2,440.3 L417.1,440.3 L418.1,440.4 L419.1,440.4 L420.1,440.5 L421.1,440.5 L422.1,440.6 L423.0,440.6 L424.0,440.7 L425.0,440.7 L426.0,440.8 L427.0,440.8 L428.0,440.9 L429.0,440.9 L429.9,441.0 L430.9,441.0 L431.9,441.0 L432.9,441.0 L433.9,440.9 L434.9,440.9 L435.9,440.9 L436.9,440.8 L438.0,440.7 L439.0,440.6 L440.0,440.4 L441.0,440.3 L442.0,440.1 L443.0,439.9 L444.0,439.6 L445.0,439.3 L445.9,439.0 L446.9,438.7 L447.8,438.3 L448.7,437.9 L449.5,437.4 L450.3,436.9 L451.1,436.4 L451.9,435.8 L452.7,435.3 L453.4,434.6 L454.1,434.0 L454.8,433.3 L455.5,432.6 L456.1,431.9 L456.7,431.2 L457.3,430.4 L457.9,429.7 L458.4,428.8 L459.0,428.0 L459.5,427.2 L460.0,426.3 L460.5,425.5 L460.9,424.6 L461.4,423.7 L461.8,422.8 L462.2,421.8 L462.6,420.9 L463.0,420.0 L463.3,419.0 L463.7,418.0 L464.0,417.1 L464.3,416.1 L464.6,415.1 L464.9,414.2 L465.2,413.2 L465.4,412.2 L465.7,411.2 L465.9,410.2 L466.2,409.3 L466.4,408.3 L466.6,407.3 L466.8,406.3 L467.0,405.4 L467.2,404.4 L467.4,403.4 L467.6,402.5 L467.8,401.5 L468.0,400.5 L468.2,399.6 L468.4,398.6 L468.6,397.7 L468.8,396.7 L469.0,395.8 L469.3,394.9 L469.5,394.0 L469.8,393.0 L470.0,392.1 L470.3,391.2 L470.6,390.3 L470.9,389.5 L471.2,388.6 L471.5,387.7 L471.9,386.8 L472.4,385.7 L472.9,384.6 L473.4,383.4 L474.0,382.2 L474.7,381.2 L475.3,380.7 L476.0,380.6 L476.6,380.8 L477.1,381.4 L477.7,382.2 L478.1,383.2 L478.6,384.2 L479.0,385.2 L479.3,386.2 L479.6,387.3 L479.8,388.3 L480.1,389.3 L480.3,390.2 L480.5,391.2 L480.7,392.2 L480.8,393.2 L481.0,394.2 L481.2,395.2 L481.4,396.2 L481.6,397.1 L481.8,398.1 L482.1,399.0 L482.3,400.0 L482.5,400.9 L482.8,401.8 L483.1,402.8 L483.3,403.7 L483.6,404.6 L483.9,405.6 L484.1,406.5 L484.4,407.4 L484.6,408.4 L484.9,409.3 L485.1,410.3 L485.3,411.3 L485.6,412.2 L485.8,413.2 L486.0,414.2 L486.2,415.2 L486.4,416.2 L486.6,417.2 L486.8,418.2 L486.9,419.2 L487.1,420.1 L487.3,421.1 L487.5,422.1 L487.8,423.1 L488.0,424.1 L488.2,425.1 L488.4,426.1 L488.6,427.1 L488.9,428.0 L489.2,429.0 L489.4,430.0 L489.7,430.9 L490.0,431.9 L490.3,432.8 L490.6,433.7 L491.0,434.6 L491.4,435.5 L491.8,436.4 L492.2,437.3 L492.6,438.1 L493.0,439.0 L493.5,439.8 L494.0,440.6 L494.6,441.4 L495.1,442.2 L495.7,442.9 L496.3,443.7 L497.0,444.4 L497.7,445.1 L498.4,445.8 L499.1,446.4 L499.9,447.0 L500.7,447.6 L501.6,448.2 L502.5,448.8 L503.4,449.3" stroke="#6b9f70" stroke-width="1.2" stroke-opacity="1.0"/><path d="M289.1,450.8 L289.5,449.8 L290.0,448.8 L290.4,447.8 L290.7,446.9 L291.1,445.9 L291.5,444.9 L291.8,443.9 L292.2,442.9 L292.5,441.9 L292.8,440.9 L293.1,439.9 L293.4,438.9 L293.7,437.9 L293.9,436.9 L294.2,435.9 L294.4,434.9 L294.7,433.9 L294.9,432.9 L295.1,431.9 L295.3,430.9 L295.5,429.9 L295.7,428.8 L295.9,427.8 L296.1,426.8 L296.3,425.8 L296.4,424.8 L296.6,423.7 L296.7,422.7 L296.9,421.7 L297.0,420.7 L297.2,419.6 L297.3,418.6 L297.4,417.6 L297.5,416.5 L297.6,415.5 L297.8,414.5 L297.9,413.4 L298.0,412.4 L298.1,411.4 L298.2,410.3 L298.3,409.3 L298.4,408.3 L298.5,407.2 L298.6,406.2 L298.7,405.1 L298.8,404.1 L298.9,403.1 L299.0,402.0 L299.1,401.0 L299.2,400.0 L299.3,398.9 L299.4,397.9 L299.5,396.8 L299.6,395.8 L299.7,394.8 L299.8,393.7 L299.9,392.7 L300.0,391.6 L300.1,390.6 L300.2,389.6 L300.3,388.5 L300.5,387.5 L300.6,386.5 L300.7,385.4 L300.8,384.4 L301.0,383.4 L301.1,382.3 L301.3,381.3 L301.4,380.3 L301.6,379.3 L301.7,378.2 L301.9,377.2 L302.1,376.2 L302.2,375.2 L302.4,374.2 L302.6,373.2 L302.8,372.1 L303.0,371.1 L303.2,370.1 L303.4,369.1 L303.6,368.1 L303.9,367.1 L304.1,366.1 L304.3,365.1 L304.6,364.1 L304.9,363.1 L305.1,362.1 L305.4,361.1 L305.7,360.0 L306.1,359.0 L306.5,357.9 L306.9,356.7 L307.3,355.6 L307.8,354.4 L308.3,353.3 L308.8,352.5 L309.4,352.2 L310.0,352.4 L310.7,352.9 L311.3,353.6 L311.9,354.5 L312.5,355.4 L313.0,356.3 L313.5,357.2 L314.0,358.2 L314.4,359.1 L314.7,360.1 L315.1,361.1 L315.4,362.1 L315.7,363.1 L315.9,364.1 L316.2,365.2 L316.4,366.2 L316.6,367.2 L316.8,368.3 L317.0,369.4 L317.1,370.4 L317.3,371.5 L317.5,372.5 L317.6,373.6 L317.8,374.7 L317.9,375.7 L318.1,376.8 L318.3,377.8 L318.4,378.9 L318.6,379.9 L318.8,380.9 L319.0,382.0 L319.2,383.0 L319.4,384.0 L319.6,385.1 L319.8,386.1 L320.0,387.1 L320.2,388.1 L320.4,389.1 L320.6,390.1 L320.8,391.2 L321.0,392.2 L321.3,393.2 L321.5,394.2 L321.7,395.2 L322.0,396.2 L322.2,397.2 L322.5,398.2 L322.7,399.2 L322.9,400.2 L323.2,401.2 L323.4,402.2 L323.7,403.2 L324.0,404.2 L324.2,405.2 L324.5,406.2 L324.7,407.1 L325.0,408.1 L325.3,409.1 L325.5,410.1 L325.8,411.1 L326.1,412.1 L326.4,413.1 L326.6,414.1 L326.9,415.1 L327.2,416.1 L327.5,417.1 L327.9,418.1 L328.2,419.1 L328.5,420.1 L328.9,421.0 L329.2,422.0 L329.6,423.0 L330.0,424.0 L330.4,425.0 L330.8,426.0 L331.2,426.9 L331.7,427.9 L332.2,428.9 L332.6,429.8 L333.1,430.8 L333.7,431.7 L334.2,432.6 L334.8,433.5 L335.4,434.3 L336.1,435.1 L336.8,435.9 L337.5,436.6 L338.2,437.3 L339.0,437.9 L339.8,438.5 L340.7,439.0 L341.5,439.5 L342.4,440.0 L343.3,440.4 L344.2,440.8 L345.2,441.2 L346.1,441.6 L347.1,441.9 L348.1,442.2 L349.1,442.5 L350.2,442.7 L351.2,442.9 L352.2,443.2 L353.3,443.3 L354.3,443.5 L355.4,443.7 L356.5,443.8 L357.5,444.0 L358.6,444.1 L359.7,444.2 L360.8,444.3 L361.8,444.4 L362.9,444.5 L363.9,444.6 L365.0,444.7 L366.0,444.8 L367.1,444.8 L368.1,444.9 L369.2,445.0 L370.2,445.0 L371.2,445.1 L372.3,445.1 L373.3,445.1 L374.3,445.1 L375.3,445.2 L376.4,445.2 L377.4,445.1 L378.4,445.1 L379.4,445.1 L380.4,445.0 L381.5,445.0 L382.5,444.9 L383.5,444.8 L384.5,444.8 L385.6,444.7 L386.6,444.5 L387.6,444.4 L388.6,444.3 L389.7,444.1 L390.7,444.0 L391.7,443.8 L392.8,443.7 L393.8,443.5 L394.8,443.4 L395.9,443.2 L396.9,443.1 L397.9,442.9 L399.0,442.8 L400.0,442.7 L401.1,442.5 L402.1,442.4 L403.1,442.3 L404.2,442.3 L405.2,442.2 L406.3,442.1 L407.3,442.1 L408.4,442.1 L409.4,442.1 L410.4,442.1 L411.5,442.1 L412.5,442.1 L413.6,442.2 L414.6,442.2 L415.7,442.3 L416.7,442.3 L417.8,442.4 L418.8,442.4 L419.9,442.5 L420.9,442.5 L422.0,442.6 L423.0,442.6 L424.0,442.7 L425.1,442.7 L426.1,442.8 L427.2,442.8 L428.2,442.8 L429.3,442.8 L430.3,442.8 L431.3,442.8 L432.4,442.8 L433.4,442.7 L434.4,442.7 L435.5,442.6 L436.5,442.5 L437.5,442.4 L438.5,442.2 L439.6,442.1 L440.6,441.9 L441.6,441.7 L442.6,441.4 L443.6,441.2 L444.6,440.9 L445.6,440.6 L446.6,440.3 L447.6,439.9 L448.5,439.5 L449.5,439.1 L450.4,438.7 L451.3,438.2 L452.2,437.7 L453.1,437.2 L454.0,436.6 L454.8,436.1 L455.7,435.5 L456.5,434.8 L457.2,434.2 L458.0,433.5 L458.7,432.8 L459.4,432.0 L460.0,431.3 L460.7,430.5 L461.3,429.6 L461.8,428.8 L462.4,427.9 L462.9,427.0 L463.4,426.1 L463.9,425.1 L464.3,424.2 L464.8,423.2 L465.2,422.2 L465.6,421.2 L465.9,420.2 L466.3,419.2 L466.6,418.1 L466.9,417.1 L467.2,416.1 L467.5,415.0 L467.8,414.0 L468.0,412.9 L468.3,411.9 L468.5,410.8 L468.7,409.8 L468.9,408.7 L469.1,407.7 L469.3,406.7 L469.5,405.7 L469.7,404.7 L469.8,403.7 L470.0,402.7 L470.2,401.7 L470.4,400.8 L470.6,399.8 L470.8,398.8 L471.1,397.8 L471.3,396.8 L471.6,395.9 L472.0,394.9 L472.3,393.9 L472.7,392.8 L473.2,391.8 L473.7,390.7 L474.3,389.7 L474.9,388.8 L475.5,388.0 L476.3,387.7 L477.0,387.7 L477.8,388.1 L478.5,388.9 L479.2,389.8 L479.7,390.7 L480.1,391.8 L480.5,392.9 L480.7,394.0 L481.0,395.1 L481.2,396.2 L481.4,397.3 L481.6,398.4 L481.9,399.5 L482.1,400.5 L482.4,401.5 L482.7,402.5 L483.0,403.5 L483.3,404.5 L483.6,405.4 L483.9,406.4 L484.2,407.3 L484.5,408.3 L484.7,409.3 L485.0,410.3 L485.2,411.2 L485.5,412.2 L485.7,413.2 L485.9,414.2 L486.2,415.3 L486.4,416.3 L486.6,417.3 L486.8,418.3 L487.0,419.3 L487.2,420.4 L487.4,421.4 L487.7,422.4 L487.9,423.4 L488.1,424.5 L488.4,425.5 L488.6,426.5 L488.9,427.5 L489.1,428.6 L489.4,429.6 L489.7,430.6 L490.0,431.6 L490.3,432.6 L490.7,433.5 L491.0,434.5 L491.4,435.5 L491.8,436.4 L492.2,437.4 L492.7,438.3 L493.2,439.2 L493.7,440.1 L494.2,441.0 L494.8,441.9 L495.4,442.7 L496.0,443.5 L496.7,444.3 L497.4,445.0 L498.1,445.7 L498.9,446.4 L499.7,447.1 L500.6,447.6 L501.5,448.2 L502.5,448.7 L503.5,449.2" stroke="#8f6796" stroke-width="1.2" stroke-opacity="1.0"/></g><rect x="361.5" y="244.5" width="70.19999999999999" height="56.10000000000002" fill="#fff" stroke="#555" stroke-width="0.8"/><text x="396.60" y="253.80" font-size="7.9" fill="#222" text-anchor="middle">Expression quartile</text><line x1="382.7" x2="396.7" y1="263.50" y2="263.50" stroke="#b9505f" stroke-width="1.1"/><text x="402.9" y="266.20" font-size="7.9" fill="#222">Q1</text><line x1="382.7" x2="396.7" y1="272.80" y2="272.80" stroke="#5f7fa3" stroke-width="1.1"/><text x="402.9" y="275.50" font-size="7.9" fill="#222">Q2</text><line x1="382.7" x2="396.7" y1="282.10" y2="282.10" stroke="#6b9f70" stroke-width="1.1"/><text x="402.9" y="284.80" font-size="7.9" fill="#222">Q3</text><line x1="382.7" x2="396.7" y1="291.40" y2="291.40" stroke="#8f6796" stroke-width="1.1"/><text x="402.9" y="294.10" font-size="7.9" fill="#222">Q4</text><rect x="289.4" y="244.5" width="214.00" height="214.10" fill="none" stroke="#383838" stroke-width="1.3"/><line x1="286.10" x2="289.4" y1="450.67" y2="450.67" stroke="#383838" stroke-width="1.1"/><line x1="503.4" x2="506.70" y1="450.67" y2="450.67" stroke="#383838" stroke-width="1.1"/><text transform="translate(514.60,450.67) rotate(-90)" x="0" y="0" font-size="8.2" fill="#333" text-anchor="middle">0</text><line x1="287.60" x2="289.4" y1="425.89" y2="425.89" stroke="#383838" stroke-width="1.1"/><line x1="503.4" x2="505.20" y1="425.89" y2="425.89" stroke="#383838" stroke-width="1.1"/><line x1="286.10" x2="289.4" y1="401.11" y2="401.11" stroke="#383838" stroke-width="1.1"/><line x1="503.4" x2="506.70" y1="401.11" y2="401.11" stroke="#383838" stroke-width="1.1"/><text transform="translate(514.60,401.11) rotate(-90)" x="0" y="0" font-size="8.2" fill="#333" text-anchor="middle">2</text><line x1="287.60" x2="289.4" y1="376.33" y2="376.33" stroke="#383838" stroke-width="1.1"/><line x1="503.4" x2="505.20" y1="376.33" y2="376.33" stroke="#383838" stroke-width="1.1"/><line x1="286.10" x2="289.4" y1="351.55" y2="351.55" stroke="#383838" stroke-width="1.1"/><line x1="503.4" x2="506.70" y1="351.55" y2="351.55" stroke="#383838" stroke-width="1.1"/><text transform="translate(514.60,351.55) rotate(-90)" x="0" y="0" font-size="8.2" fill="#333" text-anchor="middle">4</text><line x1="287.60" x2="289.4" y1="326.77" y2="326.77" stroke="#383838" stroke-width="1.1"/><line x1="503.4" x2="505.20" y1="326.77" y2="326.77" stroke="#383838" stroke-width="1.1"/><line x1="286.10" x2="289.4" y1="301.99" y2="301.99" stroke="#383838" stroke-width="1.1"/><line x1="503.4" x2="506.70" y1="301.99" y2="301.99" stroke="#383838" stroke-width="1.1"/><text transform="translate(514.60,301.99) rotate(-90)" x="0" y="0" font-size="8.2" fill="#333" text-anchor="middle">6</text><line x1="287.60" x2="289.4" y1="277.21" y2="277.21" stroke="#383838" stroke-width="1.1"/><line x1="503.4" x2="505.20" y1="277.21" y2="277.21" stroke="#383838" stroke-width="1.1"/><line x1="286.10" x2="289.4" y1="252.43" y2="252.43" stroke="#383838" stroke-width="1.1"/><line x1="503.4" x2="506.70" y1="252.43" y2="252.43" stroke="#383838" stroke-width="1.1"/><text transform="translate(514.60,252.43) rotate(-90)" x="0" y="0" font-size="8.2" fill="#333" text-anchor="middle">8</text><line x1="297.33" x2="297.33" y1="458.6" y2="461.60" stroke="#383838" stroke-width="1.1"/><text x="297.33" y="470.10" font-size="8.2" fill="#333" text-anchor="middle">0.0</text><line x1="336.96" x2="336.96" y1="458.6" y2="461.60" stroke="#383838" stroke-width="1.1"/><text x="336.96" y="470.10" font-size="8.2" fill="#333" text-anchor="middle">0.2</text><line x1="376.59" x2="376.59" y1="458.6" y2="461.60" stroke="#383838" stroke-width="1.1"/><text x="376.59" y="470.10" font-size="8.2" fill="#333" text-anchor="middle">0.4</text><line x1="416.21" x2="416.21" y1="458.6" y2="461.60" stroke="#383838" stroke-width="1.1"/><text x="416.21" y="470.10" font-size="8.2" fill="#333" text-anchor="middle">0.6</text><line x1="455.84" x2="455.84" y1="458.6" y2="461.60" stroke="#383838" stroke-width="1.1"/><text x="455.84" y="470.10" font-size="8.2" fill="#333" text-anchor="middle">0.8</text><line x1="495.47" x2="495.47" y1="458.6" y2="461.60" stroke="#383838" stroke-width="1.1"/><text x="495.47" y="470.10" font-size="8.2" fill="#333" text-anchor="middle">1.0</text><line x1="396.40" x2="396.40" y1="458.6" y2="460.40" stroke="#383838" stroke-width="1.1"/><text x="271.5" y="252.40" font-size="11.6" font-weight="bold" fill="#000">D</text><text x="150.8" y="482.7" font-size="9.4" fill="#222" stroke="#222" stroke-width="0.15" text-anchor="middle">Methylation value (Promoter CpGs)</text><text x="396.3" y="482.8" font-size="8.15" fill="#222" stroke="#222" stroke-width="0.15" text-anchor="middle">Methylation value (All Genic CpGs)</text></svg></body></html>
